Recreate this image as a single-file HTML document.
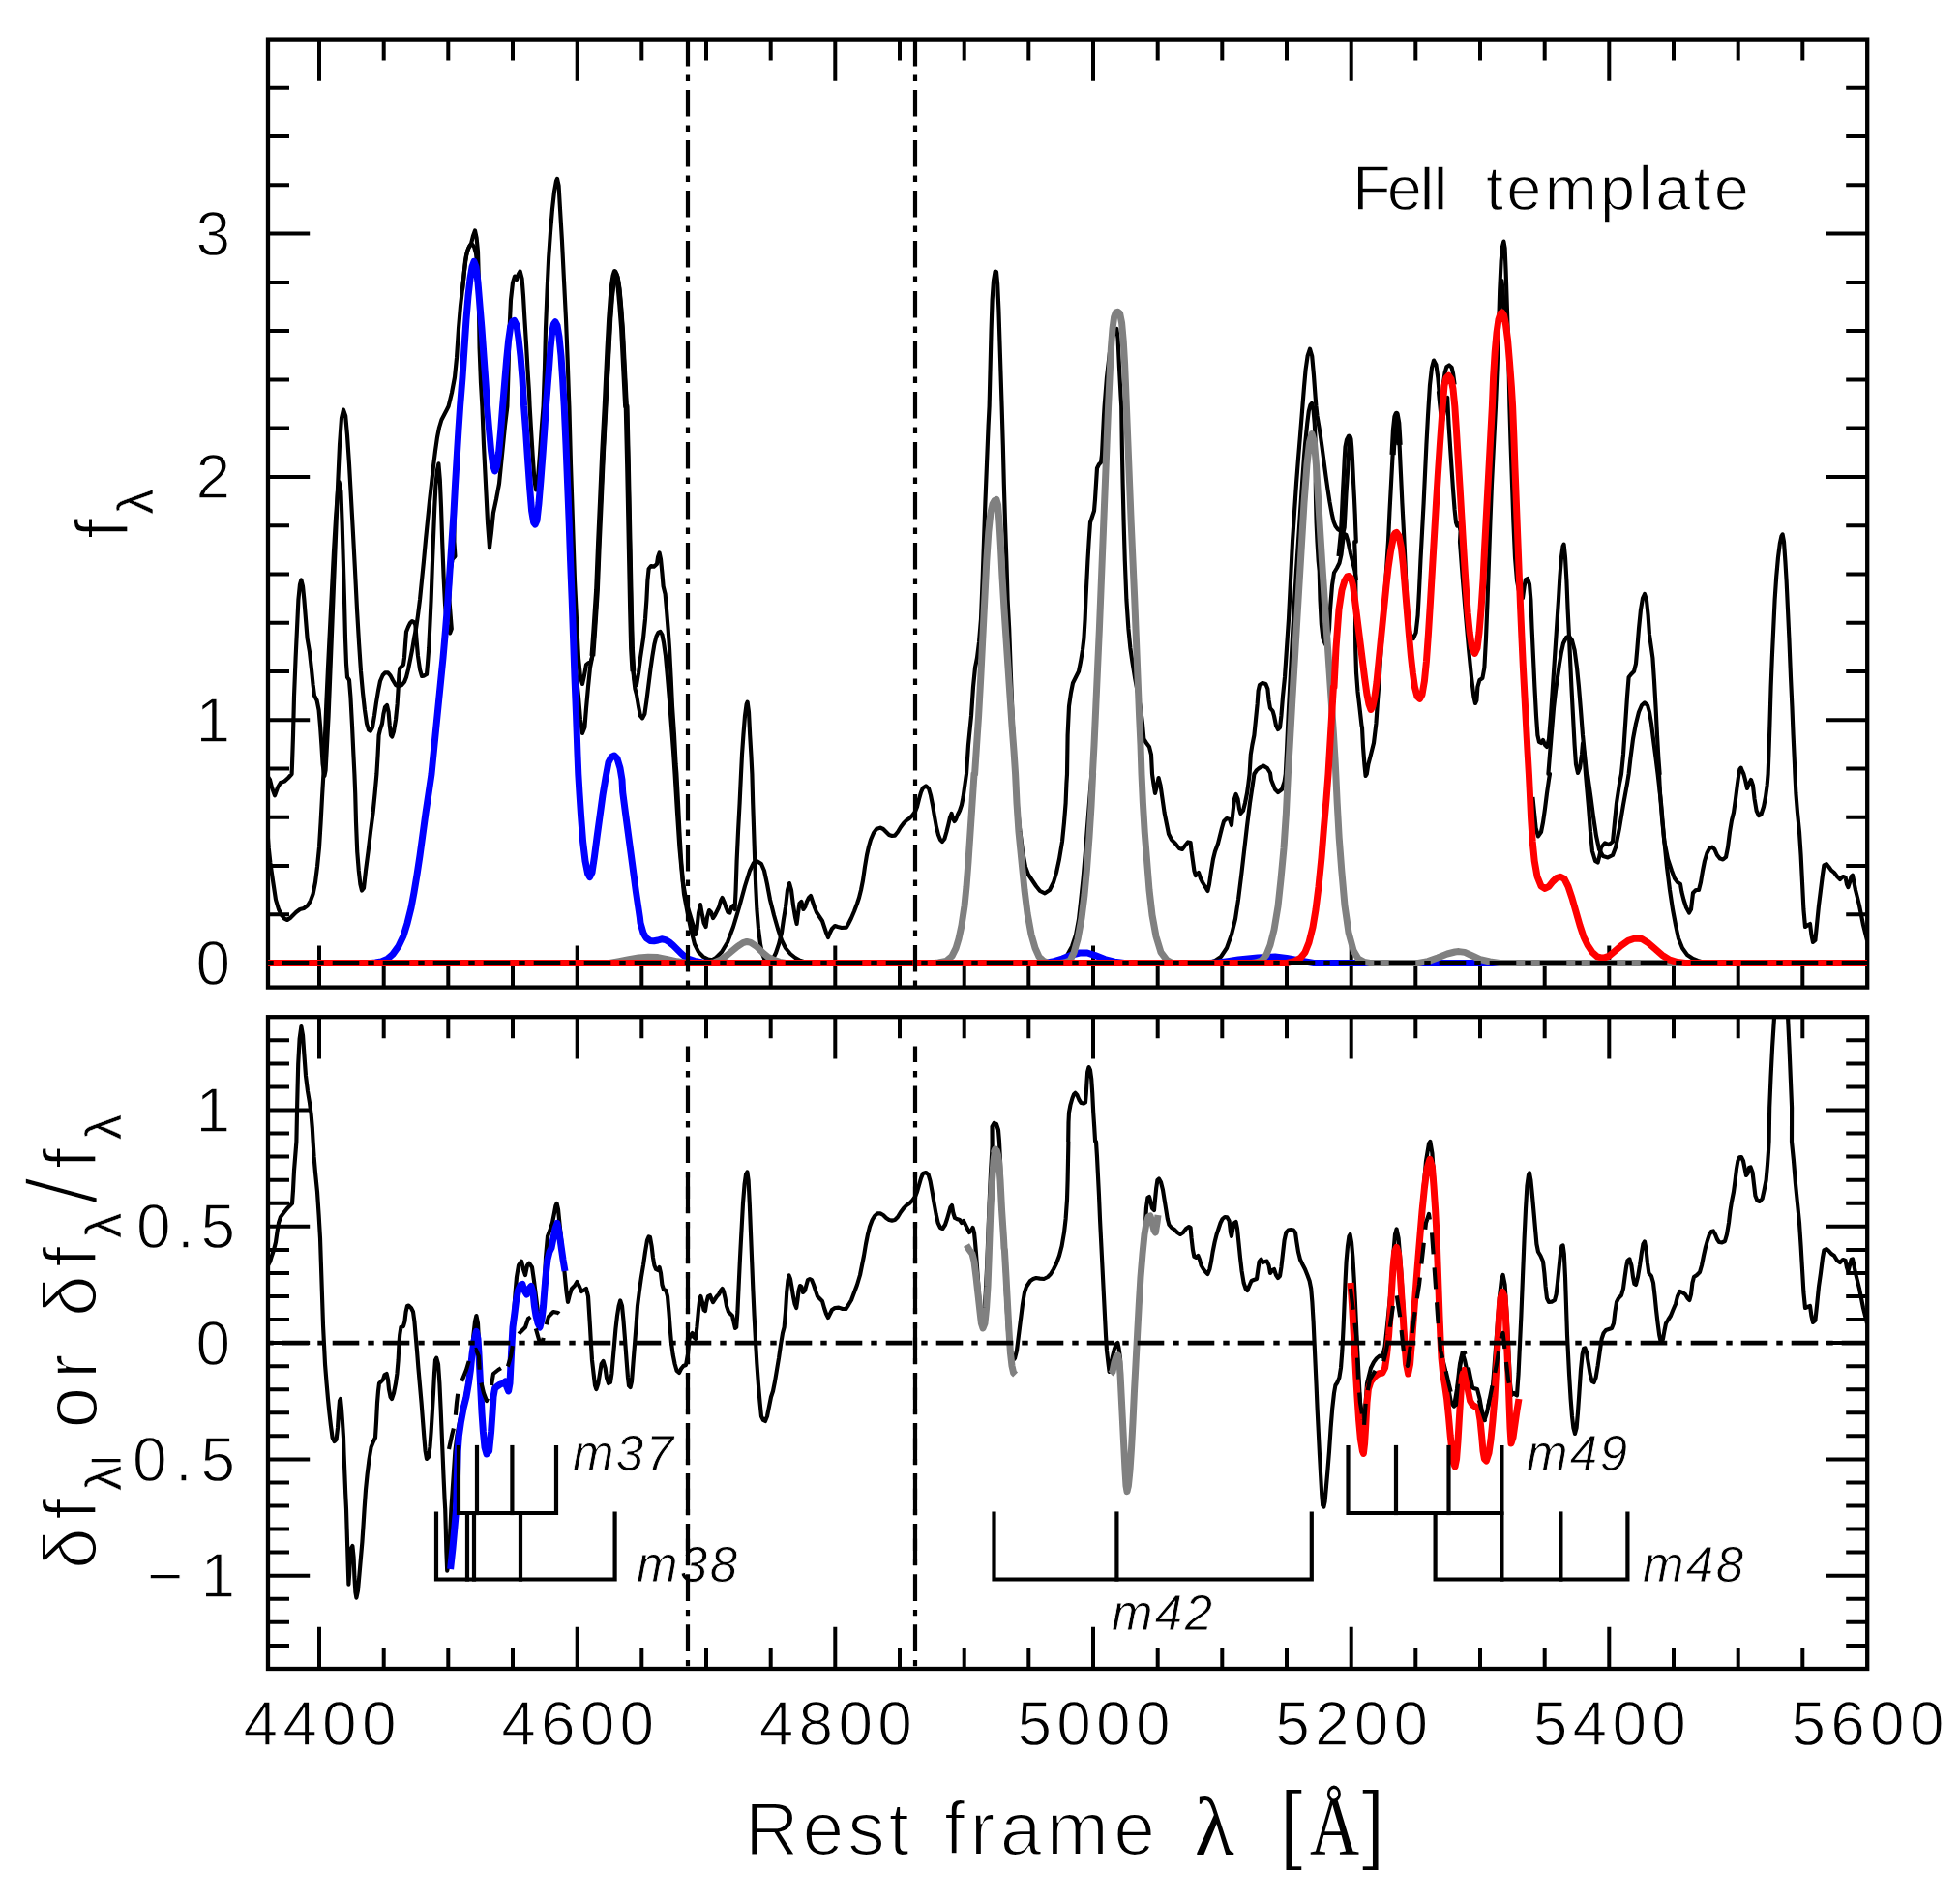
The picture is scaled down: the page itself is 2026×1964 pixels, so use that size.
<!DOCTYPE html>
<html lang="en"><head><meta charset="utf-8"><title>FeII template</title>
<style>html,body{margin:0;padding:0;background:#fff}svg{display:block}text{font-family:"Liberation Sans",sans-serif;fill:#000}.ser{font-family:"Liberation Serif",serif}.it{font-style:italic}.t0{stroke:#fff;stroke-width:0.8}.t1{stroke:#fff;stroke-width:1.3}.t2{stroke:#fff;stroke-width:2.0}.k{fill:none;stroke:#000;stroke-width:4.15;stroke-linejoin:round;stroke-linecap:butt}.c{fill:none;stroke-width:7;stroke-linejoin:round;stroke-linecap:butt}.f{fill:none;stroke:#000;stroke-width:4.3;stroke-linecap:butt}.dd{fill:none;stroke:#000;stroke-width:4.8;stroke-dasharray:27.6 9 6.4 9}</style></head><body>
<svg width="2026" height="1964" viewBox="0 0 2026 1964">
<rect width="2026" height="1964" fill="#fff"/>
<defs><clipPath id="cu"><rect x="277.0" y="40.6" width="1653.2" height="980.0"/></clipPath><clipPath id="cl"><rect x="277.0" y="1051.2" width="1653.2" height="673.8"/></clipPath></defs>
<text class="t1" x="330.5" y="1804" font-size="64" text-anchor="middle" textLength="158" lengthAdjust="spacing">4400</text>
<text class="t1" x="597.2" y="1804" font-size="64" text-anchor="middle" textLength="158" lengthAdjust="spacing">4600</text>
<text class="t1" x="863.8" y="1804" font-size="64" text-anchor="middle" textLength="158" lengthAdjust="spacing">4800</text>
<text class="t1" x="1130.5" y="1804" font-size="64" text-anchor="middle" textLength="158" lengthAdjust="spacing">5000</text>
<text class="t1" x="1397.2" y="1804" font-size="64" text-anchor="middle" textLength="158" lengthAdjust="spacing">5200</text>
<text class="t1" x="1663.8" y="1804" font-size="64" text-anchor="middle" textLength="158" lengthAdjust="spacing">5400</text>
<text class="t1" x="1930.5" y="1804" font-size="64" text-anchor="middle" textLength="158" lengthAdjust="spacing">5600</text>
<text class="t1" x="238" y="1018.0" font-size="64" text-anchor="end">0</text>
<text class="t1" x="238" y="766.7" font-size="64" text-anchor="end">1</text>
<text class="t1" x="238" y="515.4" font-size="64" text-anchor="end">2</text>
<text class="t1" x="238" y="264.1" font-size="64" text-anchor="end">3</text>
<text class="t1" x="238" y="1170.0" font-size="64" text-anchor="end">1</text>
<text class="t1" x="238" y="1410.6" font-size="64" text-anchor="end">0</text>
<text class="t1" x="141.0" y="1290.3" font-size="64" textLength="102.0" lengthAdjust="spacing">0.5</text>
<text class="t1" x="91.0" y="1530.9" font-size="64" textLength="152.0" lengthAdjust="spacing">−0.5</text>
<text class="t1" x="152.0" y="1651.2" font-size="64" textLength="91.0" lengthAdjust="spacing">−1</text>
<text class="t1" x="1398" y="217" font-size="65" textLength="100" lengthAdjust="spacing">FeII</text>
<text class="t1" x="1536" y="217" font-size="65" textLength="272" lengthAdjust="spacing">template</text>
<text class="t2" x="770" y="1917" font-size="77" textLength="170" lengthAdjust="spacing">Rest</text>
<text class="t2" x="976" y="1917" font-size="77" textLength="218" lengthAdjust="spacing">frame</text>
<text class="ser" x="1235" y="1917" font-size="84">λ</text>
<text class="t2" x="1322" y="1915" font-size="90">[</text>
<text class="ser" x="1354" y="1917" font-size="86" textLength="51" lengthAdjust="spacingAndGlyphs">Å</text>
<text class="t2" x="1407" y="1915" font-size="90">]</text>
<text class="t2" transform="translate(133,557) rotate(-90)" font-size="77">f<tspan font-size="52" dy="25" dx="4" stroke-width="0.5">λ</tspan></text>
<text class="t2" transform="translate(100,1622) rotate(-90)" font-size="77" textLength="470" lengthAdjust="spacing">δf<tspan font-size="52" dy="25" stroke-width="0.5">λ</tspan><tspan dy="-25"> or δf</tspan><tspan font-size="52" dy="25" stroke-width="0.5">λ</tspan><tspan dy="-25" font-size="104" stroke-width="3.6">/</tspan><tspan>f</tspan><tspan font-size="52" dy="25" stroke-width="0.5">λ</tspan></text>
<text class="it t0" x="592.0" y="1520.0" font-size="51" textLength="104" lengthAdjust="spacing">m37</text>
<text class="it t0" x="658.0" y="1635.0" font-size="51" textLength="104" lengthAdjust="spacing">m38</text>
<text class="it t0" x="1149.0" y="1685.0" font-size="51" textLength="104" lengthAdjust="spacing">m42</text>
<text class="it t0" x="1578.0" y="1520.0" font-size="51" textLength="104" lengthAdjust="spacing">m49</text>
<text class="it t0" x="1698.0" y="1635.0" font-size="51" textLength="104" lengthAdjust="spacing">m48</text>
<rect class="f" x="277.0" y="40.6" width="1653.2" height="980.0"/>
<rect class="f" x="277.0" y="1051.2" width="1653.2" height="673.8"/>
<path class="f" style="stroke-width:4" d="M330.0 40.6 V83.8 M330.0 1020.6 V977.4 M330.0 1051.2 V1094.4 M330.0 1725.0 V1681.8 M396.7 40.6 V62.6 M396.7 1020.6 V998.6 M396.7 1051.2 V1073.2 M396.7 1725.0 V1703.0 M463.3 40.6 V62.6 M463.3 1020.6 V998.6 M463.3 1051.2 V1073.2 M463.3 1725.0 V1703.0 M530.0 40.6 V62.6 M530.0 1020.6 V998.6 M530.0 1051.2 V1073.2 M530.0 1725.0 V1703.0 M596.7 40.6 V83.8 M596.7 1020.6 V977.4 M596.7 1051.2 V1094.4 M596.7 1725.0 V1681.8 M663.3 40.6 V62.6 M663.3 1020.6 V998.6 M663.3 1051.2 V1073.2 M663.3 1725.0 V1703.0 M730.0 40.6 V62.6 M730.0 1020.6 V998.6 M730.0 1051.2 V1073.2 M730.0 1725.0 V1703.0 M796.7 40.6 V62.6 M796.7 1020.6 V998.6 M796.7 1051.2 V1073.2 M796.7 1725.0 V1703.0 M863.3 40.6 V83.8 M863.3 1020.6 V977.4 M863.3 1051.2 V1094.4 M863.3 1725.0 V1681.8 M930.0 40.6 V62.6 M930.0 1020.6 V998.6 M930.0 1051.2 V1073.2 M930.0 1725.0 V1703.0 M996.7 40.6 V62.6 M996.7 1020.6 V998.6 M996.7 1051.2 V1073.2 M996.7 1725.0 V1703.0 M1063.3 40.6 V62.6 M1063.3 1020.6 V998.6 M1063.3 1051.2 V1073.2 M1063.3 1725.0 V1703.0 M1130.0 40.6 V83.8 M1130.0 1020.6 V977.4 M1130.0 1051.2 V1094.4 M1130.0 1725.0 V1681.8 M1196.7 40.6 V62.6 M1196.7 1020.6 V998.6 M1196.7 1051.2 V1073.2 M1196.7 1725.0 V1703.0 M1263.3 40.6 V62.6 M1263.3 1020.6 V998.6 M1263.3 1051.2 V1073.2 M1263.3 1725.0 V1703.0 M1330.0 40.6 V62.6 M1330.0 1020.6 V998.6 M1330.0 1051.2 V1073.2 M1330.0 1725.0 V1703.0 M1396.7 40.6 V83.8 M1396.7 1020.6 V977.4 M1396.7 1051.2 V1094.4 M1396.7 1725.0 V1681.8 M1463.3 40.6 V62.6 M1463.3 1020.6 V998.6 M1463.3 1051.2 V1073.2 M1463.3 1725.0 V1703.0 M1530.0 40.6 V62.6 M1530.0 1020.6 V998.6 M1530.0 1051.2 V1073.2 M1530.0 1725.0 V1703.0 M1596.7 40.6 V62.6 M1596.7 1020.6 V998.6 M1596.7 1051.2 V1073.2 M1596.7 1725.0 V1703.0 M1663.3 40.6 V83.8 M1663.3 1020.6 V977.4 M1663.3 1051.2 V1094.4 M1663.3 1725.0 V1681.8 M1730.0 40.6 V62.6 M1730.0 1020.6 V998.6 M1730.0 1051.2 V1073.2 M1730.0 1725.0 V1703.0 M1796.7 40.6 V62.6 M1796.7 1020.6 V998.6 M1796.7 1051.2 V1073.2 M1796.7 1725.0 V1703.0 M1863.3 40.6 V62.6 M1863.3 1020.6 V998.6 M1863.3 1051.2 V1073.2 M1863.3 1725.0 V1703.0 M277.0 995.5 H320.2 M1930.2 995.5 H1887.0 M277.0 945.2 H299.0 M1930.2 945.2 H1908.2 M277.0 895.0 H299.0 M1930.2 895.0 H1908.2 M277.0 844.7 H299.0 M1930.2 844.7 H1908.2 M277.0 794.5 H299.0 M1930.2 794.5 H1908.2 M277.0 744.2 H320.2 M1930.2 744.2 H1887.0 M277.0 693.9 H299.0 M1930.2 693.9 H1908.2 M277.0 643.7 H299.0 M1930.2 643.7 H1908.2 M277.0 593.4 H299.0 M1930.2 593.4 H1908.2 M277.0 543.2 H299.0 M1930.2 543.2 H1908.2 M277.0 492.9 H320.2 M1930.2 492.9 H1887.0 M277.0 442.6 H299.0 M1930.2 442.6 H1908.2 M277.0 392.4 H299.0 M1930.2 392.4 H1908.2 M277.0 342.1 H299.0 M1930.2 342.1 H1908.2 M277.0 291.9 H299.0 M1930.2 291.9 H1908.2 M277.0 241.6 H320.2 M1930.2 241.6 H1887.0 M277.0 191.3 H299.0 M1930.2 191.3 H1908.2 M277.0 141.1 H299.0 M1930.2 141.1 H1908.2 M277.0 90.8 H299.0 M1930.2 90.8 H1908.2 M277.0 1700.9 H299.0 M1930.2 1700.9 H1908.2 M277.0 1676.8 H299.0 M1930.2 1676.8 H1908.2 M277.0 1652.8 H299.0 M1930.2 1652.8 H1908.2 M277.0 1628.7 H320.2 M1930.2 1628.7 H1887.0 M277.0 1604.6 H299.0 M1930.2 1604.6 H1908.2 M277.0 1580.6 H299.0 M1930.2 1580.6 H1908.2 M277.0 1556.5 H299.0 M1930.2 1556.5 H1908.2 M277.0 1532.5 H299.0 M1930.2 1532.5 H1908.2 M277.0 1508.4 H320.2 M1930.2 1508.4 H1887.0 M277.0 1484.3 H299.0 M1930.2 1484.3 H1908.2 M277.0 1460.3 H299.0 M1930.2 1460.3 H1908.2 M277.0 1436.2 H299.0 M1930.2 1436.2 H1908.2 M277.0 1412.2 H299.0 M1930.2 1412.2 H1908.2 M277.0 1388.1 H320.2 M1930.2 1388.1 H1887.0 M277.0 1364.0 H299.0 M1930.2 1364.0 H1908.2 M277.0 1340.0 H299.0 M1930.2 1340.0 H1908.2 M277.0 1315.9 H299.0 M1930.2 1315.9 H1908.2 M277.0 1291.9 H299.0 M1930.2 1291.9 H1908.2 M277.0 1267.8 H320.2 M1930.2 1267.8 H1887.0 M277.0 1243.7 H299.0 M1930.2 1243.7 H1908.2 M277.0 1219.7 H299.0 M1930.2 1219.7 H1908.2 M277.0 1195.6 H299.0 M1930.2 1195.6 H1908.2 M277.0 1171.6 H299.0 M1930.2 1171.6 H1908.2 M277.0 1147.5 H320.2 M1930.2 1147.5 H1887.0 M277.0 1123.4 H299.0 M1930.2 1123.4 H1908.2 M277.0 1099.4 H299.0 M1930.2 1099.4 H1908.2 M277.0 1075.3 H299.0 M1930.2 1075.3 H1908.2"/>
<g clip-path="url(#cu)">
<path class="k" d="M277.0 803.0 L279.0 806.0 L281.0 814.0 L284.0 822.4 L287.0 814.0 L290.0 809.0 L294.0 807.6 L298.0 804.0 L301.6 800.0 L302.0 790.0 L303.0 760.0 L304.0 720.0 L305.6 680.0 L307.0 650.0 L308.4 620.0 L310.0 604.0 L311.4 599.4 L313.0 606.0 L314.4 620.0 L316.0 640.0 L317.6 660.0 L320.0 674.0 L322.0 692.0 L323.6 708.0 L325.0 719.0 L327.6 724.0 L329.6 734.0 L331.0 750.0 L332.4 770.0 L333.6 790.0 L335.4 802.0 L336.6 796.0 L338.0 770.0 L339.6 740.0 L341.2 700.0 L342.8 660.0 L344.4 620.0 L346.0 580.0 L347.6 540.0 L349.2 500.0 L351.0 460.0 L353.0 432.0 L355.0 423.6 L357.2 430.0 L359.0 450.0 L361.0 480.0 L363.0 516.0 L365.0 552.0 L367.0 590.0 L369.0 630.0 L371.0 664.0 L373.0 694.0 L375.0 716.0 L377.0 734.0 L379.0 748.0 L381.0 754.4 L383.0 755.6 L385.0 752.0 L387.0 740.0 L389.0 726.0 L391.0 714.0 L393.0 704.0 L395.6 698.0 L398.0 695.4 L401.0 695.4 L403.6 698.4 L406.0 703.0 L409.0 708.0 L412.0 709.4 L415.0 708.4 L418.0 705.0 L420.0 700.0 L422.0 692.0 L424.0 682.0 L426.0 672.0 L428.0 660.0 L430.0 650.0 L432.0 636.0 L434.0 620.0 L436.0 600.0 L438.0 580.0 L440.0 558.0 L442.0 538.0 L444.0 518.0 L446.0 500.0 L448.0 482.0 L450.0 466.0 L452.0 452.0 L454.0 442.0 L456.4 434.0 L459.0 429.0 L461.6 424.0 L463.6 420.0 L463.6 420.0 L467.0 406.0 L470.0 390.0 L472.0 370.0 L474.0 340.0 L476.0 316.0 L479.0 290.0 L481.0 270.0 L483.0 260.0 L485.0 255.0 L487.0 252.0 L489.0 244.0 L491.0 238.4 L492.6 246.0 L494.0 260.0 L494.6 280.0 L495.0 320.0 L495.6 360.0 L497.0 396.0 L498.4 420.0 L498.4 420.0 L500.0 460.0 L502.0 500.0 L504.0 540.0 L506.0 566.4 L508.0 550.0 L510.0 530.0 L513.0 516.0 L516.0 500.0 L518.0 480.0 L520.0 460.0 L522.0 440.0 L524.4 420.0 L524.4 420.0 L525.6 380.0 L526.6 340.0 L528.0 310.0 L530.0 292.0 L532.0 285.6 L534.0 289.0 L536.0 283.0 L537.6 280.4 L539.6 288.0 L541.0 306.0 L542.4 330.0 L544.0 356.0 L545.6 384.0 L547.0 406.0 L547.6 420.0 L547.6 420.0 L549.0 444.0 L550.6 470.0 L552.4 496.0 L554.0 506.4 L555.6 500.0 L558.0 470.0 L560.0 440.0 L561.6 420.0 L561.6 420.0 L563.0 380.0 L564.0 340.0 L565.6 300.0 L567.2 266.0 L569.0 240.0 L571.0 216.0 L573.0 198.0 L575.0 187.0 L576.0 184.8 L577.6 192.0 L579.0 216.0 L581.0 250.0 L583.0 290.0 L585.0 330.0 L586.6 370.0 L588.0 410.0 L588.4 420.0 L588.4 420.0 L590.0 480.0 L592.0 540.0 L594.0 600.0 L596.0 640.0 L598.0 680.0 L600.0 700.0 L602.0 707.0 L604.0 698.0 L606.0 687.0 L608.4 685.0 L610.0 686.0 L612.4 678.0 L614.4 650.0 L617.0 610.0 L619.0 560.0 L621.0 516.0 L623.0 470.0 L625.6 420.0 L625.6 420.0 L627.0 390.0 L628.4 360.0 L630.0 330.0 L631.6 308.0 L633.0 294.0 L634.4 285.0 L635.6 281.0 L637.6 286.0 L639.6 298.0 L641.2 316.0 L643.0 340.0 L645.0 380.0 L647.0 420.0 L647.6 420.0 L649.0 480.0 L650.0 530.0 L651.0 580.0 L652.0 630.0 L653.0 670.0 L654.4 694.0 L656.4 706.0 L658.0 708.0 L660.0 696.0 L662.0 680.0 L665.0 660.0 L667.0 640.0 L668.4 620.0 L669.4 600.0 L670.6 588.0 L673.0 585.0 L676.0 585.6 L679.0 583.0 L680.0 576.0 L681.6 571.4 L683.0 578.0 L684.4 592.0 L685.6 606.0 L687.6 614.0 L689.0 630.0 L690.6 650.0 L692.0 670.0 L693.6 700.0 L695.0 730.0 L697.0 760.0 L698.6 790.0 L699.4 800.0 L699.4 800.0 L701.0 830.0 L702.4 860.0 L704.0 888.0 L706.0 912.0 L708.4 926.0 L711.0 938.0 L714.0 948.0 L717.0 958.0 L719.0 966.0 L720.4 960.0 L722.0 944.0 L724.0 935.0 L725.6 944.0 L727.6 954.0 L729.6 958.0 L731.0 948.0 L733.0 941.0 L735.0 943.0 L737.0 949.0 L739.0 946.0 L741.0 942.0 L743.0 938.0 L745.0 931.0 L746.6 928.0 L748.4 932.0 L750.4 938.0 L752.4 943.0 L754.4 943.6 L756.0 938.0 L758.0 936.0 L759.6 940.0 L760.6 920.0 L761.6 890.0 L763.0 860.0 L764.6 830.0 L766.0 800.0 L766.0 800.0 L767.0 780.0 L768.4 760.0 L770.0 740.0 L771.6 728.0 L772.6 725.6 L774.0 736.0 L775.2 760.0 L776.4 780.0 L777.4 800.0 L777.4 800.0 L778.2 830.0 L779.2 860.0 L780.2 890.0 L781.2 916.0 L782.4 940.0 L784.0 960.0 L786.0 976.0 L788.0 986.0 L790.4 991.6 L795.0 993.2 L799.0 991.0 L802.0 985.0 L805.0 976.0 L808.0 964.0 L810.0 950.0 L812.0 938.0 L814.0 920.0 L816.0 913.0 L818.0 920.0 L820.0 936.0 L822.0 948.0 L823.6 955.0 L825.0 944.0 L826.4 934.0 L828.4 932.0 L830.4 940.0 L832.4 937.0 L834.0 932.0 L836.0 928.0 L838.0 926.0 L840.0 932.0 L842.0 938.0 L844.0 943.0 L846.0 946.0 L848.0 949.0 L850.0 952.0 L852.0 958.0 L854.0 964.0 L856.0 969.0 L858.0 964.0 L860.0 960.0 L863.0 957.0 L866.0 958.0 L870.0 959.0 L875.0 958.6 L877.0 955.0 L880.0 949.0 L883.0 942.0 L886.0 934.0 L888.0 928.0 L890.0 920.0 L892.0 910.0 L894.0 896.0 L896.0 884.0 L898.0 875.0 L900.0 868.0 L903.0 861.0 L906.0 857.0 L910.0 855.6 L913.0 857.0 L916.0 860.0 L919.0 863.0 L922.0 864.0 L925.0 863.6 L928.0 860.0 L931.0 855.0 L934.0 851.0 L937.0 848.0 L940.0 846.0 L943.0 843.0 L946.0 839.0 L948.0 834.0 L950.0 826.0 L952.0 819.0 L954.0 814.4 L957.0 812.4 L960.0 815.0 L962.0 822.0 L964.0 832.0 L966.0 844.0 L968.0 855.0 L970.0 863.0 L972.0 868.0 L974.0 870.0 L976.4 867.0 L978.4 860.0 L980.4 852.0 L982.0 845.0 L983.6 841.0 L985.0 846.0 L986.6 849.0 L988.0 847.0 L990.0 842.0 L992.0 838.0 L994.0 832.0 L995.6 824.0 L997.0 814.0 L998.4 804.0 L999.0 800.0 L999.0 800.0 L1001.0 770.0 L1004.0 740.0 L1006.0 710.0 L1008.0 690.0 L1010.0 680.0 L1012.0 664.0 L1014.0 640.0 L1015.6 600.0 L1017.0 560.0 L1018.4 520.0 L1020.0 480.0 L1021.6 440.0 L1022.6 420.0 L1022.6 420.0 L1023.6 380.0 L1024.6 340.0 L1025.6 310.0 L1027.0 290.0 L1028.6 280.6 L1030.0 281.0 L1031.2 294.0 L1032.4 320.0 L1034.0 370.0 L1035.6 420.0 L1035.6 420.0 L1036.8 460.0 L1037.8 500.0 L1039.0 540.0 L1040.4 580.0 L1041.6 620.0 L1043.2 650.0 L1045.0 700.0 L1047.0 750.0 L1049.0 790.0 L1049.6 800.0 L1049.6 800.0 L1051.6 830.0 L1054.0 856.0 L1057.0 880.0 L1060.0 896.0 L1063.0 904.0 L1067.0 910.0 L1071.0 916.0 L1075.0 921.0 L1080.0 923.4 L1085.0 920.0 L1089.0 912.0 L1092.0 902.0 L1095.0 888.0 L1098.0 870.0 L1100.0 850.0 L1101.6 830.0 L1102.4 810.0 L1103.0 800.0 L1103.0 800.0 L1103.6 760.0 L1105.0 730.0 L1107.0 716.0 L1109.0 706.0 L1112.0 700.0 L1115.0 694.0 L1117.0 684.0 L1119.0 672.0 L1120.4 660.0 L1121.6 640.0 L1122.4 620.0 L1123.4 600.0 L1124.4 580.0 L1125.6 560.0 L1127.0 540.0 L1129.0 534.0 L1131.0 528.0 L1132.0 516.0 L1133.0 500.0 L1134.0 484.0 L1136.0 480.0 L1138.0 478.0 L1139.0 470.0 L1140.0 450.0 L1141.0 430.0 L1141.6 420.0 L1141.6 420.0 L1144.0 390.0 L1147.0 364.0 L1150.0 348.0 L1153.0 341.0 L1154.4 340.0 L1155.6 350.0 L1157.0 380.0 L1158.6 410.0 L1159.2 420.0 L1159.2 420.0 L1159.8 460.0 L1160.6 500.0 L1161.6 540.0 L1162.8 580.0 L1164.4 620.0 L1166.4 650.0 L1168.4 670.0 L1170.4 684.0 L1173.0 700.0 L1176.0 716.0 L1179.0 732.0 L1181.0 748.0 L1182.4 764.0 L1185.0 768.0 L1188.0 772.0 L1190.0 780.0 L1191.0 800.0 L1191.0 800.0 L1192.4 810.0 L1194.0 820.0 L1196.0 812.0 L1197.6 804.0 L1199.6 812.0 L1201.6 826.0 L1203.6 840.0 L1206.0 852.0 L1208.0 862.0 L1211.0 868.0 L1215.0 872.0 L1219.0 877.0 L1222.0 878.0 L1225.0 874.0 L1228.0 870.4 L1230.6 871.0 L1231.6 880.0 L1233.0 890.0 L1234.4 900.0 L1236.0 905.0 L1239.0 902.0 L1241.0 908.0 L1243.0 912.0 L1246.0 917.0 L1248.4 921.0 L1250.0 914.0 L1252.0 900.0 L1254.0 888.0 L1256.0 880.0 L1259.0 872.0 L1261.0 864.0 L1263.0 856.0 L1265.0 849.0 L1268.0 846.0 L1271.0 847.0 L1273.0 853.0 L1274.4 840.0 L1276.0 826.0 L1277.6 821.0 L1279.6 826.0 L1281.0 836.0 L1282.4 841.0 L1285.0 838.0 L1287.0 830.0 L1289.0 820.0 L1290.4 810.0 L1291.6 800.0 L1291.6 800.0 L1292.8 780.0 L1294.4 770.0 L1296.4 760.0 L1298.0 744.0 L1299.6 728.0 L1300.6 714.0 L1302.0 708.0 L1305.0 706.0 L1308.4 707.0 L1310.4 712.0 L1311.6 724.0 L1313.0 732.0 L1315.6 735.0 L1317.0 740.0 L1319.0 750.0 L1321.0 754.0 L1323.0 752.0 L1324.4 740.0 L1326.0 720.0 L1328.0 700.0 L1330.0 670.0 L1332.0 640.0 L1334.0 600.0 L1336.0 560.0 L1338.0 530.0 L1340.0 500.0 L1342.0 474.0 L1344.0 450.0 L1345.6 430.0 L1346.4 420.0 L1346.4 420.0 L1348.0 400.0 L1349.6 382.0 L1351.6 368.0 L1354.0 360.6 L1356.2 368.0 L1358.0 388.0 L1359.6 410.0 L1360.4 420.0 L1360.4 420.0 L1361.5 430.0 L1363.2 440.0 L1364.8 450.0 L1366.5 462.0 L1368.5 477.0 L1370.5 492.0 L1372.5 506.0 L1374.5 519.0 L1376.5 530.0 L1378.5 539.0 L1380.5 544.0 L1383.0 547.2 L1386.0 549.0 L1388.5 550.5 L1389.7 545.0 L1390.5 530.0 L1391.5 510.0 L1392.5 495.0 L1393.5 480.0 L1394.3 465.0 L1395.0 454.0 L1395.6 451.2 L1396.5 454.0 L1397.2 462.0 L1397.8 472.0 L1398.5 486.0 L1399.2 501.0 L1400.0 516.0 L1400.7 531.0 L1401.2 545.0 L1401.8 560.0 L1400.2 560.0 L1400.8 575.0 L1401.2 590.0 L1401.4 610.0 L1401.2 630.0 L1401.0 650.0 L1401.2 670.0 L1402.0 695.0 L1403.5 715.0 L1405.5 732.0 L1407.5 750.0 L1408.0 752.0 L1409.0 772.0 L1410.4 790.0 L1411.6 802.0 L1412.8 800.0 L1414.4 790.0 L1417.0 780.0 L1420.0 768.0 L1422.4 748.0 L1424.0 724.0 L1425.6 704.0 L1427.0 680.0 L1429.0 650.0 L1431.0 620.0 L1433.0 590.0 L1435.0 560.0 L1436.4 530.0 L1438.0 500.0 L1439.6 470.0 L1441.0 444.0 L1442.4 431.0 L1443.6 428.0 L1445.2 437.0 L1446.6 460.0 L1448.0 490.0 L1449.4 520.0 L1451.0 550.0 L1452.4 580.0 L1454.0 620.0 L1455.6 646.0 L1458.0 656.0 L1461.0 660.0 L1463.6 654.0 L1465.6 636.0 L1467.0 610.0 L1468.4 580.0 L1470.0 550.0 L1471.6 520.0 L1473.0 490.0 L1474.4 460.0 L1476.0 430.0 L1476.6 420.0 L1476.6 420.0 L1478.0 398.0 L1480.0 380.0 L1482.0 372.6 L1484.4 377.0 L1486.4 391.0 L1488.0 410.0 L1487.0 405.3 L1489.2 427.4 L1491.1 435.1 L1493.1 423.0 L1494.9 411.9 L1496.2 411.0 L1497.5 438.4 L1499.7 471.6 L1501.9 504.7 L1503.6 526.9 L1505.0 540.1 L1506.3 543.7 L1508.0 541.2 L1509.6 549.0 L1509.0 560.0 L1512.0 600.0 L1515.0 636.0 L1518.0 670.0 L1521.0 700.0 L1523.4 720.0 L1525.0 727.0 L1526.4 724.0 L1527.4 710.0 L1529.4 703.0 L1532.4 701.0 L1534.4 690.0 L1536.0 660.0 L1537.6 620.0 L1539.0 580.0 L1540.4 540.0 L1542.0 500.0 L1544.0 460.0 L1546.0 420.0 L1546.0 420.0 L1547.6 380.0 L1549.0 340.0 L1550.2 300.0 L1551.6 270.0 L1553.0 255.0 L1554.4 249.6 L1555.6 256.4 L1556.6 280.0 L1557.6 310.0 L1558.6 340.0 L1559.6 380.0 L1560.4 420.0 L1560.4 420.0 L1561.6 460.0 L1563.0 500.0 L1564.4 540.0 L1566.0 576.0 L1568.0 600.0 L1571.0 616.0 L1574.0 618.0 L1575.6 606.0 L1577.0 599.0 L1579.0 598.0 L1581.0 604.0 L1582.4 620.0 L1583.6 650.0 L1585.0 680.0 L1586.4 710.0 L1588.0 740.0 L1589.4 760.0 L1591.0 767.0 L1593.0 768.0 L1595.0 765.0 L1597.0 770.0 L1599.0 772.0 L1601.0 764.0 L1603.0 740.0 L1605.0 710.0 L1607.0 680.0 L1609.0 650.0 L1611.0 620.0 L1612.4 596.0 L1614.0 576.0 L1615.6 564.4 L1616.6 562.6 L1618.0 576.0 L1619.4 600.0 L1620.6 630.0 L1621.6 650.0 L1623.0 680.0 L1624.4 710.0 L1626.0 740.0 L1627.6 770.0 L1629.0 790.0 L1631.0 799.0 L1633.0 794.0 L1635.0 780.0 L1636.0 768.4 L1637.6 780.0 L1639.0 800.0 L1639.0 800.0 L1640.4 816.0 L1642.0 834.0 L1644.0 860.0 L1646.0 880.0 L1649.0 890.0 L1651.6 891.6 L1653.6 884.0 L1655.0 876.0 L1659.0 871.4 L1663.0 873.2 L1667.0 870.0 L1669.0 850.0 L1671.0 830.0 L1674.0 810.0 L1676.0 800.0 L1676.0 800.0 L1678.0 780.0 L1680.0 750.0 L1682.0 720.0 L1683.6 700.0 L1686.0 697.0 L1689.0 694.0 L1691.0 686.0 L1692.4 670.0 L1694.0 650.0 L1696.0 630.0 L1698.0 618.4 L1700.0 614.0 L1702.0 620.4 L1703.6 636.0 L1705.0 656.0 L1707.0 670.0 L1708.4 680.0 L1710.0 704.0 L1711.6 732.0 L1713.0 760.0 L1714.4 784.0 L1715.6 800.0 L1715.0 800.0 L1716.0 820.0 L1718.0 846.0 L1720.4 870.0 L1724.0 888.0 L1728.0 900.0 L1731.0 908.0 L1734.0 912.0 L1737.0 914.0 L1738.4 922.0 L1740.4 930.0 L1743.0 938.0 L1746.0 943.6 L1748.0 940.0 L1750.0 923.0 L1753.0 920.0 L1756.0 920.0 L1758.0 912.0 L1760.0 900.0 L1762.0 890.0 L1764.4 882.0 L1767.0 877.0 L1770.0 875.6 L1772.4 878.0 L1775.0 884.0 L1778.0 887.6 L1781.0 888.4 L1784.0 886.0 L1786.0 876.0 L1788.0 860.0 L1790.0 848.0 L1792.0 840.0 L1794.0 826.0 L1796.0 810.0 L1797.4 800.0 L1797.4 800.0 L1798.4 795.0 L1799.6 793.6 L1801.0 797.0 L1802.4 800.0 L1802.4 800.0 L1804.0 806.0 L1806.0 815.0 L1808.0 810.0 L1810.0 806.0 L1812.0 812.0 L1813.6 826.0 L1815.6 838.0 L1818.0 843.0 L1820.4 842.0 L1823.0 834.0 L1825.0 824.0 L1826.6 812.0 L1827.6 800.0 L1827.6 800.0 L1828.4 780.0 L1829.4 750.0 L1830.6 710.0 L1831.8 680.0 L1833.2 650.0 L1834.6 620.0 L1836.2 596.0 L1838.0 576.0 L1839.8 562.0 L1841.4 554.4 L1842.6 552.4 L1844.0 560.0 L1845.4 580.0 L1846.6 600.0 L1848.0 630.0 L1849.4 660.0 L1851.0 700.0 L1852.4 730.0 L1853.6 760.0 L1855.0 790.0 L1855.4 800.0 L1855.4 800.0 L1856.4 820.0 L1858.0 840.0 L1860.0 860.0 L1861.6 884.0 L1863.0 912.0 L1864.4 940.0 L1866.0 958.0 L1869.0 956.0 L1871.0 955.0 L1872.4 966.0 L1874.0 974.0 L1876.4 972.0 L1878.0 956.0 L1880.0 936.0 L1882.0 920.0 L1884.0 904.0 L1885.4 894.4 L1888.0 893.2 L1890.4 896.0 L1893.0 899.6 L1896.0 902.0 L1899.0 906.0 L1902.0 909.0 L1905.0 906.0 L1907.6 907.0 L1909.0 914.0 L1910.4 917.0 L1912.0 912.0 L1913.6 906.0 L1915.0 904.6 L1916.4 912.0 L1918.0 920.0 L1920.0 928.0 L1922.0 936.0 L1924.0 946.0 L1926.0 956.0 L1928.0 964.0 L1930.0 972.0"/>
<path class="k" d="M276.6 862.0 L277.8 877.0 L279.4 892.0 L282.0 910.0 L285.0 930.0 L288.0 940.0 L291.0 946.0 L294.0 949.6 L297.0 951.0 L300.0 949.0 L303.0 946.0 L306.0 943.0 L310.0 940.0 L314.0 939.0 L318.0 936.0 L321.0 931.0 L323.6 924.0 L326.0 912.0 L328.0 896.0 L330.0 876.0 L331.6 850.0 L333.0 824.0 L334.4 800.0 L334.4 800.0 L335.6 770.0 L337.2 730.0 L339.0 690.0 L341.0 650.0 L343.0 610.0 L345.0 570.0 L347.0 536.0 L349.0 508.0 L350.6 498.4 L352.4 508.0 L353.6 540.0 L354.8 580.0 L356.0 620.0 L357.0 660.0 L358.0 686.0 L359.0 700.0 L361.0 703.0 L362.4 720.0 L364.0 750.0 L365.4 780.0 L366.4 800.0 L366.4 800.0 L367.2 820.0 L368.0 850.0 L369.2 880.0 L370.8 900.0 L372.4 914.0 L374.0 920.6 L376.0 918.0 L378.0 900.0 L380.6 880.0 L383.0 860.0 L385.6 840.0 L387.6 820.0 L389.4 800.0 L389.4 800.0 L390.6 780.0 L391.6 760.0 L393.0 754.0 L395.0 748.0 L396.4 738.0 L398.0 731.0 L400.0 729.0 L401.6 736.0 L402.8 750.0 L404.0 760.0 L405.2 761.6 L407.0 756.0 L409.0 744.0 L410.6 728.0 L411.6 712.0 L412.4 698.0 L413.2 691.0 L415.0 689.0 L417.0 687.0 L418.0 680.0 L419.0 666.0 L420.0 653.0 L422.0 648.0 L424.0 644.0 L426.0 642.0 L428.0 643.0 L429.4 646.0 L430.4 660.0 L432.0 678.0 L434.0 692.0 L436.0 699.0 L438.0 698.6 L441.0 697.0 L442.0 686.0 L443.2 670.0 L444.4 646.0 L445.6 620.0 L446.8 586.0 L448.0 556.0 L449.2 526.0 L450.4 502.0 L452.0 486.0 L453.4 479.4 L454.8 496.0 L456.0 524.0 L457.2 560.0 L458.6 596.0 L460.0 624.0 L461.6 642.0 L463.2 652.0 L465.2 654.4 L466.8 650.0 L464.4 620.0 L465.6 590.0 L467.6 578.0 L470.4 575.0 L469.4 560.0 L469.6 530.0 L470.6 500.0 L472.4 470.0 L475.6 420.0"/>
<path class="k" d="M593.0 660.0 L595.0 690.0 L598.0 720.0 L600.0 744.0 L602.0 758.0 L604.4 752.0 L606.0 732.0 L608.0 710.0 L610.0 690.0 L612.0 680.0 L614.0 660.0 L616.0 630.0 L618.0 590.0 L620.0 540.0 L622.0 500.0 L624.0 460.0 L626.0 420.0 L626.0 420.0 L628.0 390.0 L629.6 360.0 L631.2 330.0 L632.8 308.0 L634.4 294.0 L636.0 285.0 L637.2 283.0 L638.8 288.0 L640.4 300.0 L642.0 318.0 L643.6 342.0 L645.4 380.0 L647.4 420.0 L648.0 420.0 L649.4 480.0 L650.4 530.0 L651.4 580.0 L652.4 630.0 L653.4 670.0 L655.0 700.0 L656.4 712.0 L658.0 718.0 L660.0 730.0 L662.0 740.0 L664.0 742.4 L666.4 738.0 L668.4 724.0 L670.4 708.0 L672.4 692.0 L674.4 678.0 L676.4 666.0 L678.4 658.0 L680.4 654.0 L682.6 653.0 L684.4 656.0 L686.0 664.0 L688.0 678.0 L690.0 700.0 L692.0 724.0 L694.0 750.0 L696.0 776.0 L697.6 800.0 L697.6 800.0 L700.0 840.0 L702.4 876.0 L705.0 904.0 L707.0 924.0 L710.0 940.0 L714.0 960.0 L718.0 976.0 L722.0 984.0 L727.0 989.0 L732.0 991.6 L736.0 992.4 L740.0 990.0 L746.0 984.0 L752.0 974.0 L758.0 958.0 L764.0 938.0 L770.0 916.0 L775.0 900.0 L779.0 892.0 L783.0 890.4 L787.0 893.0 L790.0 900.0 L793.0 914.0 L796.0 930.0 L800.0 946.0 L804.0 960.0 L808.0 972.0 L812.0 980.0 L817.0 986.0 L822.0 990.0 L826.0 992.4 L834.0 995.0"/>
<path class="k" style="stroke-width:5.8" d="M612.4 678.0 L614.4 650.0 L617.0 610.0 L619.0 560.0 L621.0 516.0 L623.0 470.0 L625.6 420.0 L625.6 420.0 L627.0 390.0 L628.4 360.0 L630.0 330.0 L631.6 308.0 L633.0 294.0 L634.4 285.0 L635.6 281.0 L637.6 286.0 L639.6 298.0 L641.2 316.0 L643.0 340.0 L645.0 380.0 L647.0 420.0 L647.6 420.0 L649.0 480.0 L650.0 530.0 L651.0 580.0 L652.0 630.0 L653.0 670.0 L654.4 694.0"/>
<path class="k" style="stroke-width:6.2" d="M1439.6 470.0 L1441.0 444.0 L1442.4 431.0 L1443.6 428.0 L1445.2 437.0 L1446.6 460.0"/>
<path class="k" d="M1090.0 995.0 L1098.0 992.4 L1103.0 987.4 L1108.0 978.4 L1112.0 966.4 L1115.0 950.4 L1117.0 932.4 L1119.6 908.0 L1122.0 880.0 L1124.4 850.0 L1126.8 820.0 L1128.4 800.0"/>
<path class="k" d="M1250.0 995.0 L1256.0 993.0 L1262.0 989.0 L1268.0 980.0 L1273.0 966.0 L1277.0 950.0 L1280.0 930.0 L1283.0 906.0 L1286.0 880.0 L1289.0 854.0 L1292.0 830.0 L1295.0 810.0 L1296.4 800.0 L1296.4 800.0 L1299.0 796.0 L1302.0 793.6 L1306.0 791.6 L1310.0 794.0 L1313.0 799.0 L1314.0 806.0 L1318.0 816.0 L1321.0 819.0 L1325.0 816.0 L1327.6 808.0 L1328.8 800.0 L1328.8 800.0 L1330.0 776.0 L1331.6 740.0 L1333.2 710.0 L1334.8 680.0 L1336.4 650.0 L1338.2 620.0 L1340.0 590.0 L1342.0 560.0 L1344.0 530.0 L1346.0 500.0 L1348.0 472.0 L1349.0 460.0 L1349.8 452.0 L1351.2 438.0 L1352.8 425.0 L1354.5 418.5 L1356.0 416.8 L1357.5 423.0 L1358.8 438.0 L1359.6 456.0 L1360.0 475.0 L1359.8 500.0 L1360.1 520.0 L1360.6 540.0 L1361.5 560.0 L1362.7 580.0 L1363.7 590.0 L1363.7 590.0 L1364.5 620.0 L1365.8 645.0 L1367.5 660.0 L1370.0 666.0 L1372.5 660.0 L1374.0 650.0 L1375.0 630.0 L1377.0 605.0 L1379.0 592.0 L1382.0 587.0 L1384.5 582.0 L1386.5 573.0 L1387.8 562.0 L1388.2 559.0 L1389.2 552.0 L1391.5 553.0 L1393.0 558.0 L1394.5 565.0 L1396.0 572.0 L1397.5 578.0 L1399.0 584.0 L1400.5 590.0 L1402.0 600.0"/>
<path class="k" d="M1383.5 575.0 L1385.0 560.0 L1386.0 550.0 L1386.8 535.0 L1387.5 520.0 L1388.2 505.0 L1389.0 490.0 L1389.7 475.0 L1390.5 462.0 L1392.0 454.5 L1394.0 450.8 L1395.6 450.5"/>
<path class="k" d="M1492.0 396.4 L1493.6 385.4 L1495.3 379.3 L1498.0 377.4 L1500.6 379.8 L1502.1 386.5 L1503.6 397.5"/>
<path class="k" d="M1550.0 324.0 L1551.2 300.0 L1552.4 290.0 L1553.6 300.0 L1554.8 324.0"/>
<path class="k" d="M1584.4 824.0 L1586.0 840.0 L1587.6 856.0 L1590.0 864.4 L1593.0 860.0 L1595.0 850.0 L1597.0 836.0 L1599.0 820.0 L1601.0 806.0 L1602.0 800.0 L1600.4 800.0 L1602.0 780.0 L1604.0 756.0 L1606.0 732.0 L1608.0 714.0 L1610.0 700.0 L1612.0 686.0 L1614.0 674.0 L1616.0 665.0 L1619.0 659.0 L1622.0 657.6 L1625.0 662.0 L1627.6 672.0 L1630.0 690.0 L1632.0 710.0 L1634.0 734.0 L1636.0 760.0 L1638.0 780.0 L1640.0 800.0 L1641.0 800.0 L1644.4 824.0 L1647.0 844.0 L1650.0 864.0 L1653.0 878.0 L1657.0 885.0 L1662.0 886.4 L1667.0 884.0 L1670.0 876.0 L1674.0 856.0 L1678.0 832.0 L1682.0 810.0 L1683.6 800.0 L1683.6 800.0 L1685.4 784.0 L1688.0 764.0 L1691.0 748.0 L1694.0 736.0 L1697.0 729.0 L1700.0 726.4 L1703.0 729.0 L1705.0 736.0 L1707.0 748.0 L1709.0 764.0 L1711.6 784.0 L1713.6 800.0 L1713.6 800.0 L1717.0 830.0 L1720.0 866.0 L1723.0 896.0 L1726.0 920.0 L1729.0 940.0 L1732.0 956.0 L1735.0 970.0 L1739.0 980.0 L1744.0 987.0 L1750.0 991.0 L1755.0 993.0 L1762.0 995.0"/>
<path class="k" d="M478.0 300.0 L480.0 280.0 L482.0 264.0 L484.0 257.0 L486.0 253.6 L488.0 252.4 L490.0 255.0 L492.0 262.0 L493.6 276.0 L495.0 300.0"/>
<path class="c" stroke="#0000ff" d="M277.0 995.5 L384.0 995.5 L388.0 995.0 L394.0 994.0 L400.0 991.6 L406.0 986.4 L412.0 978.0 L417.0 967.6 L421.0 954.4 L425.0 938.4 L428.0 922.4 L431.0 904.4 L434.0 884.4 L437.0 862.4 L440.0 840.4 L443.0 820.4 L446.0 800.0 L446.0 800.0 L449.0 770.0 L452.0 740.0 L455.0 710.0 L458.0 680.0 L460.6 650.0 L463.0 620.0 L465.0 590.0 L467.0 560.0 L469.0 530.0 L470.6 500.0 L472.4 470.0 L474.0 444.0 L475.6 420.0 L475.6 420.0 L478.0 390.0 L480.0 360.0 L482.0 330.0 L484.0 306.0 L486.0 288.0 L488.0 276.0 L490.0 270.4 L492.0 276.0 L494.0 292.0 L496.0 316.0 L498.0 340.0 L500.0 368.0 L502.0 396.0 L503.6 420.0 L503.6 420.0 L505.6 444.0 L507.6 466.0 L509.6 481.0 L511.6 487.0 L513.6 482.0 L515.6 468.0 L517.6 446.0 L519.6 420.0 L519.6 420.0 L521.6 396.0 L523.6 372.0 L525.6 352.0 L527.6 338.0 L529.6 332.4 L531.6 331.4 L534.0 336.0 L536.0 350.0 L538.0 368.0 L540.0 392.0 L541.4 416.0 L541.6 420.0 L541.6 420.0 L543.6 446.0 L545.6 476.0 L547.6 504.0 L549.6 528.0 L551.6 540.0 L553.2 542.0 L555.0 538.0 L557.0 520.0 L559.0 496.0 L561.0 470.0 L563.0 442.0 L564.4 420.0 L564.4 420.0 L566.0 400.0 L567.6 380.0 L569.0 360.0 L570.6 344.0 L572.4 335.0 L574.0 332.8 L576.0 336.4 L578.0 348.0 L580.0 368.0 L581.6 392.0 L583.2 420.0 L583.2 420.0 L585.0 460.0 L586.6 500.0 L588.2 540.0 L589.6 580.0 L591.2 620.0 L592.6 660.0 L594.0 700.0 L595.6 740.0 L597.0 780.0 L597.8 800.0 L597.8 800.0 L599.0 820.0 L600.6 844.0 L602.6 870.0 L605.0 890.0 L607.6 903.0 L609.6 906.6 L612.0 902.0 L614.4 886.0 L617.0 866.0 L620.0 844.0 L623.0 822.0 L626.0 804.0 L629.0 788.0 L632.0 782.4 L635.0 781.0 L638.0 784.0 L641.0 794.0 L643.0 806.0 L643.7 818.9 L646.8 842.6 L652.1 882.1 L657.4 921.6 L661.3 947.9 L662.0 954.0 L665.0 964.4 L668.0 969.6 L672.0 972.4 L676.0 972.8 L680.0 972.0 L684.0 970.8 L688.0 971.6 L692.0 974.0 L696.0 977.4 L700.0 981.4 L704.0 985.4 L708.0 988.8 L712.0 991.4 L718.0 993.4 L726.0 995.0 L734.0 995.5 L1080.0 995.5 L1088.0 994.0 L1098.0 991.0 L1108.0 987.0 L1116.0 985.0 L1124.0 985.0 L1132.0 987.6 L1142.0 991.6 L1152.0 994.2 L1162.0 995.5 L1250.0 995.5 L1260.0 995.0 L1280.0 992.0 L1300.0 990.0 L1318.0 989.0 L1330.0 990.4 L1342.0 992.8 L1358.0 995.5 L1930.0 995.5"/>
<path class="c" stroke="#808080" d="M277.0 995.5 L630.0 995.5 L630.0 995.5 L640.0 993.6 L650.0 991.6 L660.0 990.0 L670.0 989.2 L680.0 989.6 L690.0 991.6 L700.0 993.8 L710.0 995.5 L734.0 995.5 L738.0 995.0 L744.0 992.6 L750.0 988.6 L756.0 983.6 L762.0 978.6 L768.0 974.6 L772.0 973.4 L776.0 974.4 L782.0 978.4 L788.0 984.4 L794.0 989.4 L800.0 992.4 L806.0 994.4 L812.0 995.5 L966.0 995.5 L970.0 995.0 L978.0 993.4 L984.0 988.4 L988.0 980.4 L991.0 970.4 L994.0 956.4 L997.0 936.4 L999.0 916.4 L1001.0 890.4 L1003.0 860.4 L1005.0 830.4 L1007.0 800.0 L1007.6 800.0 L1009.6 770.0 L1011.6 740.0 L1013.8 700.0 L1015.8 660.0 L1017.8 620.0 L1019.8 580.0 L1021.8 550.0 L1023.8 531.0 L1026.0 521.0 L1028.0 517.6 L1030.0 516.4 L1030.0 516.4 L1031.6 522.0 L1033.0 540.0 L1034.4 564.0 L1036.0 596.0 L1038.0 630.0 L1040.0 660.0 L1042.0 690.0 L1044.0 720.0 L1046.0 750.0 L1048.0 776.0 L1049.6 800.0 L1049.6 800.0 L1051.0 830.0 L1053.0 860.0 L1056.0 890.0 L1059.0 920.0 L1062.0 944.0 L1066.0 966.0 L1070.0 980.0 L1074.0 989.0 L1079.0 993.6 L1084.0 995.5 L1096.0 995.5 L1100.0 995.0 L1106.0 993.0 L1110.0 985.0 L1114.0 971.0 L1118.0 949.0 L1121.0 925.0 L1123.6 897.0 L1126.0 865.0 L1128.0 833.0 L1129.6 800.0 L1129.4 800.0 L1131.0 770.0 L1132.8 730.0 L1134.6 690.0 L1136.4 650.0 L1138.0 610.0 L1140.0 560.0 L1142.0 510.0 L1144.0 460.0 L1145.6 420.0 L1145.6 420.0 L1147.0 390.0 L1148.4 360.0 L1150.0 340.0 L1151.6 328.0 L1153.4 323.0 L1155.4 322.2 L1157.6 324.0 L1159.6 334.0 L1161.2 352.0 L1162.6 376.0 L1163.6 400.0 L1164.4 420.0 L1164.4 420.0 L1166.0 460.0 L1167.6 500.0 L1169.2 540.0 L1171.0 580.0 L1172.8 620.0 L1174.4 660.0 L1176.0 700.0 L1177.6 740.0 L1179.0 770.0 L1180.0 800.0 L1180.0 800.0 L1181.4 830.0 L1183.2 860.0 L1185.6 890.0 L1188.0 920.0 L1191.0 946.0 L1195.0 968.0 L1200.0 984.4 L1206.0 992.4 L1212.0 995.5 L1294.0 995.5 L1298.0 995.0 L1304.0 993.0 L1309.0 987.0 L1313.0 977.0 L1317.0 961.0 L1321.0 937.0 L1324.0 909.0 L1327.0 877.0 L1329.4 841.0 L1331.4 800.0 L1331.4 800.0 L1333.2 770.0 L1336.0 720.0 L1339.0 670.0 L1342.0 620.0 L1345.0 570.0 L1348.0 520.0 L1351.0 480.0 L1353.6 457.0 L1356.0 448.6 L1358.4 457.0 L1360.4 480.0 L1362.4 512.0 L1364.4 546.0 L1366.4 578.0 L1368.4 608.0 L1370.4 638.0 L1372.4 668.0 L1374.4 698.0 L1376.4 728.0 L1378.4 758.0 L1380.2 788.0 L1380.8 800.0 L1380.8 800.0 L1382.2 830.0 L1384.2 866.0 L1386.8 900.0 L1390.0 936.0 L1394.0 964.0 L1399.0 982.4 L1404.0 991.0 L1410.0 994.4 L1416.0 995.5 L1466.0 995.5 L1476.0 993.6 L1486.0 990.0 L1496.0 986.0 L1504.0 984.0 L1508.0 983.6 L1514.0 984.4 L1522.0 988.0 L1530.0 991.6 L1540.0 994.0 L1550.0 995.5 L1930.0 995.5"/>
<path class="c" stroke="#ff0000" d="M277.0 995.5 L1326.0 995.5 L1330.0 995.5 L1338.0 993.6 L1344.0 990.4 L1349.0 984.4 L1353.0 974.4 L1357.0 958.4 L1360.0 940.4 L1363.0 916.4 L1366.0 886.4 L1368.4 856.4 L1371.0 826.4 L1373.0 800.0 L1373.0 800.0 L1374.8 770.0 L1376.6 740.0 L1378.4 710.0 L1379.0 710.0 L1381.0 670.0 L1384.0 630.0 L1387.0 610.0 L1390.0 600.0 L1392.5 596.0 L1394.5 595.5 L1396.5 597.5 L1398.5 605.0 L1400.5 620.0 L1403.0 640.0 L1405.5 660.0 L1408.0 680.0 L1410.5 700.0 L1413.0 718.0 L1415.0 728.0 L1417.0 733.5 L1419.0 730.0 L1421.0 720.0 L1423.0 705.0 L1425.0 685.0 L1427.0 665.0 L1429.0 645.0 L1431.0 625.0 L1433.0 605.0 L1435.0 587.0 L1437.5 570.0 L1439.5 560.0 L1440.4 553.6 L1442.0 551.2 L1443.6 550.4 L1446.0 554.0 L1448.4 566.0 L1450.4 584.0 L1452.4 608.0 L1454.4 632.0 L1456.4 656.0 L1458.4 678.0 L1460.4 696.0 L1462.4 710.0 L1465.0 720.0 L1467.6 722.4 L1470.0 718.0 L1472.4 704.0 L1474.4 684.0 L1476.4 656.0 L1478.4 624.0 L1480.4 590.0 L1482.4 556.0 L1484.4 522.0 L1486.4 490.0 L1488.4 460.0 L1490.4 432.0 L1491.2 420.0 L1491.2 420.0 L1493.0 398.4 L1495.0 390.6 L1497.4 388.2 L1500.0 392.0 L1502.0 402.0 L1503.4 416.0 L1503.8 420.0 L1503.8 420.0 L1505.4 444.0 L1507.2 474.0 L1509.2 506.0 L1511.2 540.0 L1513.2 574.0 L1515.2 606.0 L1517.2 634.0 L1519.2 654.0 L1521.6 670.0 L1524.4 675.4 L1527.0 670.0 L1529.0 654.0 L1531.0 630.0 L1533.0 600.0 L1534.4 570.0 L1536.0 540.0 L1537.6 510.0 L1539.2 480.0 L1540.8 450.0 L1542.4 420.0 L1542.4 420.0 L1543.6 390.0 L1545.2 364.0 L1547.0 344.0 L1549.0 330.0 L1551.0 324.0 L1552.6 323.0 L1554.6 326.0 L1556.6 336.0 L1558.6 352.0 L1560.6 376.0 L1562.4 400.0 L1563.6 420.0 L1563.6 420.0 L1564.8 450.0 L1566.0 484.0 L1567.4 520.0 L1568.8 556.0 L1570.2 592.0 L1571.6 628.0 L1573.0 660.0 L1574.4 690.0 L1576.0 720.0 L1577.6 750.0 L1579.0 776.0 L1580.4 800.0 L1580.4 800.0 L1581.4 820.0 L1582.6 846.0 L1584.2 870.0 L1586.2 890.0 L1589.0 906.0 L1593.0 916.0 L1597.0 918.4 L1601.0 916.4 L1605.0 911.4 L1609.0 907.6 L1613.0 906.2 L1617.0 908.4 L1621.0 916.4 L1625.0 928.4 L1629.0 942.4 L1633.0 956.4 L1637.0 968.4 L1641.0 976.8 L1646.0 984.4 L1651.0 988.8 L1657.0 990.4 L1663.0 988.4 L1669.0 983.4 L1676.0 977.4 L1683.0 972.4 L1690.0 970.0 L1697.0 970.6 L1703.0 974.2 L1710.0 980.2 L1718.0 987.2 L1726.0 992.2 L1734.0 994.6 L1742.0 995.5 L1930.0 995.5"/>
</g>
<path class="dd" stroke-dashoffset="37.3" d="M277.0 995.5 H1930.2"/>
<path class="dd" style="stroke-width:4.2" d="M711.0 41.0 V1020.6"/>
<path class="dd" style="stroke-width:4.2" d="M946.0 41.0 V1020.6"/>
<g clip-path="url(#cl)">
<path class="k" d="M277.0 1308.0 L279.2 1304.0 L281.0 1298.0 L283.0 1292.0 L285.0 1284.0 L286.4 1274.0 L288.0 1264.0 L290.0 1258.0 L293.0 1254.0 L297.0 1249.0 L302.0 1244.0 L303.0 1230.0 L304.0 1210.0 L305.6 1190.0 L306.4 1180.0 L306.4 1180.0 L307.2 1140.0 L308.2 1100.0 L309.6 1074.0 L311.4 1061.0 L313.0 1070.0 L314.4 1090.0 L316.0 1112.0 L318.0 1128.0 L320.0 1140.0 L321.6 1152.0 L322.8 1166.0 L323.6 1180.0 L323.6 1180.0 L324.6 1196.0 L326.0 1212.0 L328.0 1232.0 L329.6 1256.0 L331.0 1280.0 L332.0 1310.0 L333.0 1340.0 L334.0 1370.0 L335.0 1390.0 L336.0 1410.0 L337.6 1430.0 L339.0 1446.0 L340.4 1460.0 L342.0 1474.0 L343.6 1486.0 L345.6 1490.0 L347.6 1488.0 L349.0 1476.0 L350.0 1460.0 L351.0 1448.0 L352.0 1446.0 L353.0 1456.0 L354.0 1470.0 L355.0 1486.0 L355.6 1504.0 L356.4 1524.0 L357.2 1544.0 L358.0 1560.0 L358.0 1560.0 L358.6 1580.0 L359.2 1600.0 L359.8 1620.0 L360.4 1637.6 L361.2 1626.0 L362.0 1610.0 L363.2 1600.0 L364.4 1598.0 L365.6 1610.0 L366.4 1630.0 L367.4 1646.0 L368.4 1651.6 L370.0 1644.0 L371.6 1626.0 L373.0 1610.0 L374.4 1594.0 L375.6 1576.0 L376.6 1560.0 L376.6 1560.0 L378.0 1540.0 L379.6 1524.0 L381.6 1508.0 L383.6 1496.0 L386.0 1490.0 L388.0 1486.0 L389.0 1470.0 L390.0 1450.0 L391.0 1438.0 L392.0 1430.0 L394.0 1428.0 L396.0 1426.0 L397.6 1421.0 L399.6 1420.0 L401.0 1426.0 L402.0 1436.0 L403.6 1444.0 L405.0 1446.0 L407.0 1440.0 L409.0 1430.0 L410.4 1420.0 L411.6 1406.0 L412.4 1390.0 L413.2 1380.0 L414.4 1372.0 L417.0 1371.0 L418.4 1366.0 L419.6 1356.0 L421.0 1350.0 L422.4 1349.6 L425.0 1352.0 L427.0 1356.0 L428.4 1366.0 L429.6 1380.0 L431.0 1396.0 L432.4 1414.0 L434.0 1432.0 L435.6 1450.0 L437.0 1468.0 L438.4 1486.0 L439.6 1500.0 L441.0 1508.0 L443.0 1506.0 L444.4 1496.0 L445.6 1480.0 L446.8 1460.0 L448.0 1440.0 L449.0 1420.0 L450.0 1406.0 L451.2 1403.6 L453.0 1410.0 L454.4 1430.0 L455.6 1456.0 L456.6 1480.0 L457.6 1504.0 L458.6 1528.0 L459.6 1550.0 L460.2 1560.0 L460.2 1560.0 L460.8 1580.0 L461.4 1604.0 L462.2 1623.6 L463.6 1616.0 L465.0 1590.0 L466.4 1560.0 L466.4 1560.0 L468.4 1530.0 L470.4 1500.0 L472.4 1484.0 L475.0 1470.0 L478.0 1456.0 L481.0 1444.0 L483.6 1430.0 L485.6 1416.0 L487.6 1400.0 L489.4 1380.0 L491.0 1366.0 L492.4 1360.0 L494.0 1368.0 L495.2 1390.0 L496.2 1420.0 L497.2 1440.0 L498.2 1460.0 L499.6 1480.0 L501.2 1496.0 L503.0 1503.0 L505.6 1500.0 L507.6 1480.0 L509.0 1460.0 L510.0 1444.0 L511.6 1435.0 L514.0 1433.0 L517.0 1431.0 L520.0 1430.0 L522.4 1428.0 L524.0 1434.0 L525.6 1438.0 L527.0 1430.0 L528.0 1410.0 L529.0 1390.0 L530.0 1372.0 L531.2 1356.0 L532.6 1336.0 L534.0 1320.0 L536.0 1308.0 L539.0 1303.6 L541.0 1312.0 L543.0 1318.0 L545.0 1308.0 L547.0 1305.6 L550.0 1310.0 L552.0 1324.0 L554.0 1340.0 L556.0 1356.0 L558.0 1368.0 L560.0 1360.0 L561.6 1344.0 L562.8 1324.0 L564.0 1300.0 L566.0 1278.0 L569.0 1270.0 L571.0 1264.0 L573.0 1254.0 L574.4 1246.4 L575.6 1244.0 L577.0 1250.0 L578.4 1264.0 L580.0 1280.0 L582.0 1300.0 L584.0 1320.0 L585.6 1336.0 L587.0 1346.0 L589.0 1338.0 L591.0 1332.0 L594.0 1329.0 L596.4 1325.0 L599.0 1330.0 L601.0 1335.0 L603.0 1334.0 L606.0 1332.0 L608.0 1340.0 L609.0 1356.0 L610.0 1372.0 L611.0 1390.0 L612.0 1406.0 L613.6 1420.0 L615.0 1432.0 L616.4 1436.0 L618.4 1430.0 L620.0 1420.0 L621.6 1410.0 L623.6 1407.0 L625.6 1414.0 L627.0 1424.0 L629.0 1430.0 L631.0 1429.0 L632.4 1420.0 L633.6 1406.0 L635.0 1390.0 L636.4 1374.0 L638.0 1360.0 L639.6 1350.0 L641.2 1344.4 L643.0 1350.0 L644.4 1364.0 L646.0 1384.0 L647.6 1406.0 L649.0 1424.0 L650.0 1432.4 L651.6 1434.0 L653.0 1428.0 L654.4 1410.0 L656.0 1390.0 L657.6 1370.0 L659.0 1350.0 L661.0 1334.0 L663.0 1320.0 L665.0 1308.0 L667.0 1294.0 L669.0 1282.0 L670.6 1278.4 L672.0 1279.0 L673.6 1288.0 L675.0 1300.0 L676.4 1308.0 L678.0 1312.0 L680.0 1313.0 L681.6 1310.0 L683.0 1316.0 L684.4 1328.0 L686.0 1333.0 L688.4 1334.0 L690.0 1340.0 L691.4 1356.0 L692.6 1372.0 L694.0 1388.0 L695.6 1400.0 L697.6 1410.0 L699.6 1417.0 L702.0 1419.0 L704.0 1415.0 L706.4 1412.0 L709.0 1411.0 L711.0 1400.0 L712.4 1384.0 L714.0 1380.0 L715.6 1378.0 L717.0 1382.0 L719.0 1384.0 L720.4 1372.0 L722.0 1354.0 L723.4 1342.0 L724.4 1340.0 L726.0 1346.0 L727.6 1354.0 L729.0 1355.0 L730.4 1346.0 L732.0 1340.0 L734.0 1339.0 L735.6 1343.0 L737.0 1346.0 L739.0 1343.0 L741.0 1340.0 L743.0 1338.0 L745.0 1334.0 L746.6 1332.0 L748.0 1335.0 L749.6 1342.0 L751.0 1350.0 L753.0 1356.0 L755.0 1358.0 L757.0 1360.0 L758.4 1366.0 L760.0 1373.0 L761.2 1372.0 L762.4 1356.0 L763.6 1330.0 L765.0 1300.0 L766.6 1270.0 L768.0 1244.0 L769.6 1224.0 L771.0 1214.0 L772.4 1211.4 L773.6 1220.0 L774.8 1244.0 L776.0 1274.0 L777.2 1304.0 L778.4 1334.0 L779.6 1360.0 L781.0 1386.0 L782.4 1410.0 L784.0 1432.0 L785.6 1450.0 L787.0 1464.0 L789.0 1468.0 L791.0 1469.0 L793.0 1464.0 L795.0 1454.0 L797.0 1444.0 L799.0 1438.0 L801.0 1428.0 L803.0 1416.0 L805.0 1404.0 L807.0 1390.0 L809.0 1378.0 L810.6 1372.0 L812.0 1356.0 L813.2 1336.0 L814.4 1324.0 L815.6 1318.4 L817.0 1322.0 L818.4 1330.0 L820.0 1340.0 L821.6 1348.0 L823.2 1352.0 L824.4 1344.0 L825.6 1334.0 L827.0 1329.0 L828.4 1330.0 L830.0 1336.0 L832.0 1334.0 L833.6 1328.0 L835.0 1323.0 L837.0 1322.0 L839.0 1323.0 L841.0 1328.0 L843.0 1334.0 L845.0 1340.0 L848.0 1343.0 L850.0 1345.0 L852.0 1352.0 L854.0 1358.0 L856.0 1362.0 L858.0 1358.0 L860.0 1354.0 L863.0 1352.0 L867.0 1351.6 L871.0 1353.0 L874.4 1353.0 L877.0 1349.0 L880.0 1344.0 L883.0 1336.0 L886.0 1328.0 L889.0 1318.0 L891.0 1308.0 L893.0 1298.0 L895.0 1286.0 L897.0 1276.0 L899.0 1268.0 L901.6 1261.0 L904.0 1257.0 L907.0 1254.4 L910.0 1254.4 L913.0 1256.0 L916.0 1259.0 L919.0 1261.0 L922.0 1261.6 L925.0 1261.0 L928.0 1258.0 L931.0 1253.0 L934.0 1249.0 L937.0 1246.0 L940.0 1244.0 L943.0 1241.0 L946.0 1237.0 L948.0 1232.0 L950.0 1225.0 L952.0 1218.0 L954.0 1213.0 L957.0 1212.0 L959.6 1214.0 L961.6 1221.0 L963.6 1232.0 L965.6 1244.0 L967.6 1255.0 L969.6 1264.0 L972.0 1269.0 L974.4 1270.0 L977.0 1266.0 L979.0 1260.0 L981.0 1253.0 L982.4 1248.0 L984.0 1246.0 L985.4 1254.0 L987.0 1259.0 L989.0 1260.0 L992.0 1261.0 L994.0 1264.0 L996.0 1262.0 L998.0 1266.0 L1000.0 1270.0 L1002.0 1274.0 L1004.0 1272.0 L1005.6 1269.0 L1007.0 1274.0 L1008.0 1284.0 L1009.0 1296.0 L1010.0 1310.0 L1011.0 1324.0 L1012.0 1338.0 L1013.2 1352.0 L1014.4 1364.0 L1015.6 1370.0 L1017.2 1360.0 L1018.8 1336.0 L1020.2 1308.0 L1021.4 1276.0 L1022.6 1244.0 L1024.0 1212.0 L1025.6 1184.0 L1025.5 1164.5 L1027.5 1161.0 L1030.0 1162.0 L1032.0 1168.0 L1033.0 1180.0 L1034.0 1200.0 L1035.0 1230.0 L1036.5 1260.0 L1038.0 1290.0 L1040.0 1340.0 L1042.0 1376.0 L1044.0 1396.0 L1047.0 1406.4 L1049.0 1404.0 L1051.0 1396.0 L1053.0 1380.0 L1055.0 1364.0 L1057.0 1348.0 L1059.0 1336.0 L1061.0 1330.0 L1063.0 1327.0 L1065.0 1324.0 L1068.0 1322.0 L1071.0 1321.0 L1075.0 1321.6 L1079.0 1322.0 L1083.0 1320.0 L1086.0 1317.0 L1089.0 1312.0 L1092.0 1306.0 L1095.0 1298.0 L1097.6 1288.0 L1100.0 1274.0 L1101.6 1260.0 L1103.0 1240.0 L1103.6 1220.0 L1104.0 1200.0 L1104.4 1180.0 L1104.2 1180.0 L1104.5 1160.0 L1105.0 1150.0 L1106.5 1142.0 L1108.5 1135.0 L1110.0 1131.2 L1111.5 1129.8 L1113.5 1132.2 L1115.5 1137.0 L1117.5 1140.0 L1120.0 1140.6 L1122.0 1139.5 L1122.8 1130.0 L1123.5 1118.0 L1124.2 1108.0 L1125.5 1103.0 L1127.0 1106.2 L1128.2 1115.0 L1129.2 1130.0 L1130.2 1150.0 L1131.2 1165.0 L1132.1 1180.0 L1133.0 1180.0 L1134.0 1196.0 L1135.0 1216.0 L1136.0 1236.0 L1137.0 1260.0 L1138.0 1280.0 L1139.0 1300.0 L1140.0 1320.0 L1141.0 1340.0 L1142.0 1360.0 L1143.0 1380.0 L1144.0 1396.0 L1145.6 1410.0 L1146.6 1418.0 L1148.0 1412.0 L1150.0 1402.0 L1152.0 1394.0 L1154.0 1389.0 L1155.4 1388.0 L1156.6 1394.0 L1158.0 1404.0 L1159.2 1440.0 L1160.4 1470.0 L1162.0 1500.0 L1163.6 1524.0 L1165.0 1534.0 L1166.6 1528.0 L1168.4 1508.0 L1170.0 1480.0 L1171.6 1450.0 L1173.2 1420.0 L1174.8 1390.0 L1176.4 1360.0 L1178.4 1328.0 L1180.4 1302.0 L1182.4 1280.0 L1184.0 1264.0 L1185.0 1248.0 L1186.4 1238.0 L1188.0 1237.0 L1189.4 1242.0 L1191.0 1249.0 L1193.0 1251.0 L1194.0 1240.0 L1195.2 1228.0 L1196.4 1220.0 L1198.0 1218.4 L1200.0 1222.0 L1202.0 1230.0 L1203.6 1240.0 L1205.2 1250.0 L1206.8 1260.0 L1208.4 1266.0 L1211.0 1269.0 L1214.0 1271.0 L1217.0 1274.0 L1220.0 1276.0 L1223.0 1274.0 L1226.0 1270.0 L1229.0 1268.0 L1230.6 1269.0 L1231.6 1280.0 L1233.0 1292.0 L1234.4 1299.0 L1236.4 1300.0 L1238.4 1298.0 L1240.0 1302.0 L1241.6 1308.0 L1244.0 1312.0 L1246.4 1315.0 L1248.4 1317.0 L1250.4 1312.0 L1252.0 1304.0 L1253.6 1294.0 L1255.6 1284.0 L1257.6 1276.0 L1259.6 1270.0 L1261.6 1264.0 L1263.6 1260.0 L1266.0 1258.0 L1268.4 1258.4 L1270.6 1262.0 L1272.0 1274.0 L1273.0 1278.0 L1274.4 1270.0 L1276.0 1264.0 L1277.6 1263.0 L1279.0 1270.0 L1280.4 1284.0 L1282.0 1300.0 L1283.6 1314.0 L1285.6 1326.0 L1287.6 1332.0 L1289.4 1334.0 L1291.4 1329.0 L1293.6 1324.0 L1296.0 1323.0 L1299.0 1322.0 L1300.4 1312.0 L1301.6 1304.0 L1303.6 1301.6 L1305.6 1305.0 L1307.6 1304.0 L1309.6 1303.6 L1311.6 1308.0 L1313.0 1316.0 L1315.0 1313.0 L1317.0 1312.0 L1319.0 1318.0 L1321.0 1321.0 L1323.0 1319.0 L1324.4 1310.0 L1326.0 1296.0 L1327.6 1282.0 L1329.4 1274.0 L1331.6 1271.6 L1334.4 1271.0 L1337.0 1271.6 L1339.0 1274.0 L1340.4 1284.0 L1342.0 1294.0 L1344.0 1302.0 L1346.4 1307.0 L1349.0 1312.0 L1351.4 1318.0 L1353.6 1324.0 L1355.2 1332.0 L1356.4 1346.0 L1357.6 1366.0 L1358.6 1388.0 L1359.6 1410.0 L1360.6 1432.0 L1361.6 1456.0 L1362.8 1480.0 L1364.0 1504.0 L1365.2 1526.0 L1366.2 1544.0 L1367.2 1556.0 L1368.4 1557.6 L1369.6 1552.0 L1371.0 1536.0 L1372.4 1520.0 L1374.0 1500.0 L1375.6 1476.0 L1377.2 1456.0 L1379.0 1440.0 L1380.4 1432.0 L1382.4 1429.0 L1384.4 1424.0 L1386.0 1414.0 L1387.4 1396.0 L1388.6 1372.0 L1389.6 1348.0 L1390.6 1324.0 L1391.6 1304.0 L1393.0 1288.0 L1394.4 1278.0 L1395.6 1276.0 L1397.0 1284.0 L1398.4 1300.0 L1399.6 1320.0 L1400.8 1344.0 L1402.0 1370.0 L1403.2 1396.0 L1404.6 1424.0 L1406.0 1450.0 L1407.6 1470.0 L1409.2 1480.0 L1410.0 1480.0 L1411.6 1450.0 L1413.0 1430.0 L1415.0 1422.0 L1417.0 1414.0 L1420.0 1408.0 L1423.0 1404.0 L1426.0 1401.6 L1429.0 1402.4 L1431.6 1392.0 L1434.0 1370.0 L1437.0 1340.0 L1440.0 1300.0 L1442.0 1276.0 L1443.6 1270.4 L1445.6 1280.0 L1448.0 1310.0 L1451.0 1360.0 L1454.0 1410.0 L1455.6 1420.0 L1458.0 1404.0 L1462.0 1356.0 L1466.0 1300.0 L1470.0 1246.0 L1474.0 1200.0 L1477.0 1182.0 L1478.4 1180.0 L1480.4 1192.0 L1483.0 1230.0 L1486.0 1300.0 L1489.0 1380.0 L1491.0 1404.0 L1494.0 1416.0 L1497.0 1434.0 L1500.0 1450.0 L1503.0 1453.6 L1506.0 1436.0 L1509.0 1410.0 L1511.6 1398.0 L1514.0 1406.0 L1517.0 1420.0 L1520.0 1432.0 L1523.0 1435.0 L1527.0 1436.0 L1529.6 1446.0 L1532.0 1460.0 L1534.4 1468.0 L1537.0 1460.0 L1540.0 1446.0 L1542.0 1444.0 L1544.0 1420.0 L1547.0 1380.0 L1550.0 1340.0 L1552.0 1322.4 L1553.6 1318.0 L1555.6 1328.0 L1557.6 1360.0 L1559.6 1400.0 L1561.0 1430.0 L1562.4 1442.0 L1565.0 1440.0 L1568.0 1442.4 L1569.6 1420.0 L1571.0 1390.0 L1572.4 1360.0 L1574.0 1320.0 L1575.6 1280.0 L1577.0 1250.0 L1578.4 1226.0 L1580.0 1214.4 L1581.0 1212.4 L1582.4 1220.0 L1584.0 1236.0 L1585.6 1254.0 L1587.0 1270.0 L1588.4 1286.0 L1590.0 1294.0 L1592.4 1298.0 L1595.0 1304.0 L1596.4 1316.0 L1597.6 1330.0 L1599.0 1342.0 L1601.0 1346.0 L1604.0 1345.6 L1607.0 1344.0 L1608.6 1338.0 L1610.0 1326.0 L1611.6 1310.0 L1613.0 1296.0 L1614.4 1288.0 L1615.6 1287.4 L1616.8 1296.0 L1618.0 1320.0 L1619.0 1350.0 L1620.0 1380.0 L1621.0 1400.0 L1622.0 1420.0 L1623.6 1446.0 L1625.0 1464.0 L1626.4 1476.0 L1628.0 1482.0 L1629.6 1476.0 L1631.0 1460.0 L1632.4 1440.0 L1634.0 1416.0 L1635.6 1400.0 L1637.0 1394.0 L1638.4 1393.4 L1640.0 1398.0 L1641.6 1408.0 L1643.6 1420.0 L1645.6 1428.0 L1647.6 1429.0 L1649.6 1424.0 L1651.6 1412.0 L1653.6 1398.0 L1655.6 1384.0 L1657.6 1378.0 L1660.0 1375.0 L1663.0 1374.0 L1666.0 1373.0 L1668.0 1368.0 L1669.4 1356.0 L1671.0 1346.0 L1673.0 1342.0 L1676.0 1339.0 L1678.0 1332.0 L1679.6 1320.0 L1681.0 1310.0 L1682.4 1303.0 L1684.4 1301.4 L1686.4 1308.0 L1688.0 1320.0 L1689.4 1327.0 L1691.0 1328.0 L1693.0 1320.0 L1695.0 1308.0 L1697.0 1294.0 L1698.4 1286.0 L1700.0 1283.4 L1701.6 1292.0 L1703.0 1306.0 L1704.4 1316.0 L1707.0 1319.0 L1709.0 1326.0 L1710.6 1340.0 L1712.0 1354.0 L1713.6 1368.0 L1715.2 1380.0 L1717.0 1388.0 L1719.0 1384.0 L1720.4 1376.0 L1722.0 1368.0 L1724.4 1364.0 L1727.0 1360.0 L1729.4 1354.0 L1732.0 1348.0 L1734.0 1340.0 L1736.4 1335.0 L1739.0 1336.0 L1742.0 1338.0 L1744.4 1342.0 L1746.4 1344.0 L1748.0 1338.0 L1749.4 1326.0 L1751.0 1320.0 L1754.0 1318.0 L1757.0 1315.0 L1759.0 1308.0 L1761.0 1298.0 L1763.0 1289.0 L1765.0 1282.0 L1767.0 1276.0 L1769.0 1273.0 L1771.0 1272.4 L1773.0 1276.0 L1775.0 1281.0 L1777.0 1284.0 L1780.0 1284.4 L1783.0 1283.0 L1785.0 1276.0 L1787.0 1264.0 L1788.4 1252.0 L1790.0 1242.0 L1792.0 1232.0 L1793.6 1220.0 L1795.0 1208.0 L1796.4 1200.0 L1798.0 1196.4 L1800.0 1196.0 L1802.0 1200.0 L1803.6 1208.0 L1805.0 1215.0 L1806.6 1213.0 L1808.0 1207.0 L1809.6 1206.4 L1811.6 1212.0 L1813.0 1224.0 L1814.4 1236.0 L1816.4 1241.0 L1819.0 1242.0 L1821.6 1239.0 L1823.6 1230.0 L1825.6 1220.0 L1827.0 1204.0 L1828.0 1190.0 L1828.6 1180.0 L1829.2 1145.0 L1830.5 1113.7 L1832.1 1082.0 L1834.0 1052.0 L1836.0 1020.0 L1841.0 960.0 L1846.0 1020.0 L1848.1 1052.0 L1849.5 1082.0 L1850.8 1113.7 L1852.1 1145.0 L1852.0 1180.0 L1854.0 1200.0 L1856.0 1224.0 L1858.0 1244.0 L1860.0 1264.0 L1861.6 1288.0 L1863.0 1312.0 L1864.4 1336.0 L1866.0 1352.0 L1868.4 1351.0 L1871.0 1350.0 L1872.4 1360.0 L1874.0 1367.0 L1876.4 1365.0 L1878.0 1350.0 L1880.0 1330.0 L1882.0 1316.0 L1884.0 1300.0 L1885.4 1292.4 L1888.0 1291.0 L1890.4 1293.0 L1893.0 1296.0 L1896.0 1298.0 L1899.0 1303.0 L1902.0 1305.0 L1905.0 1302.0 L1907.6 1303.0 L1909.0 1310.0 L1910.4 1314.0 L1912.0 1308.0 L1913.6 1302.0 L1915.0 1301.4 L1916.4 1308.0 L1918.0 1316.0 L1920.0 1324.0 L1922.0 1332.0 L1924.0 1342.0 L1926.0 1352.0 L1928.0 1360.0 L1930.0 1368.0"/>
<path class="c" stroke="#0000ff" d="M465.6 1622.0 L468.0 1600.0 L470.0 1578.0 L471.6 1560.0 L471.6 1560.0 L472.4 1530.0 L473.2 1500.0 L474.4 1484.0 L476.4 1470.0 L479.0 1456.0 L482.0 1444.0 L484.4 1430.0 L486.4 1416.0 L488.0 1400.0 L490.0 1386.0 L492.4 1376.4 L494.0 1384.0 L495.0 1400.0 L496.0 1420.0 L497.0 1440.0 L498.0 1460.0 L499.4 1480.0 L501.0 1496.0 L503.0 1503.0 L505.6 1500.0 L507.6 1480.0 L509.0 1460.0 L510.0 1444.0 L511.6 1435.0 L514.0 1433.0 L517.0 1431.0 L520.0 1430.0 L522.4 1428.0 L524.0 1434.0 L525.6 1438.0 L527.0 1430.0 L528.0 1410.0 L529.0 1390.0 L530.0 1372.0 L531.6 1360.0 L533.6 1344.0 L535.6 1334.0 L538.0 1328.4 L540.0 1327.4 L542.0 1334.0 L544.4 1338.0 L547.0 1332.0 L549.0 1329.4 L551.0 1336.0 L552.4 1350.0 L554.0 1360.0 L556.0 1368.0 L558.0 1372.0 L560.0 1364.0 L561.6 1350.0 L563.0 1332.0 L564.4 1316.0 L566.0 1302.0 L568.0 1294.0 L570.0 1290.0 L572.0 1280.0 L574.0 1270.0 L576.0 1264.4 L578.0 1274.0 L580.0 1288.0 L582.0 1302.0 L584.0 1314.0"/>
<path class="c" stroke="#808080" d="M999.0 1287.0 L1002.0 1292.0 L1005.0 1296.0 L1007.0 1304.0 L1009.0 1320.0 L1011.0 1338.0 L1013.0 1356.0 L1014.4 1368.0 L1016.0 1373.0 L1018.0 1368.0 L1019.6 1352.0 L1021.0 1330.0 L1022.0 1304.0 L1023.0 1276.0 L1024.0 1248.0 L1025.6 1220.0 L1027.0 1200.0 L1028.6 1188.0 L1027.8 1190.0 L1029.0 1188.5 L1030.3 1189.5 L1031.5 1194.0 L1032.5 1200.0 L1034.0 1220.0 L1035.5 1250.0 L1037.5 1280.0 L1038.0 1290.0 L1038.4 1292.0 L1040.0 1320.0 L1041.6 1350.0 L1043.0 1376.0 L1044.4 1398.0 L1046.0 1412.0 L1047.6 1419.0 L1049.6 1421.0"/>
<path class="c" stroke="#808080" d="M1148.0 1420.0 L1150.0 1418.0 L1152.0 1408.0 L1154.0 1402.0 L1155.6 1401.0 L1157.0 1408.0 L1158.0 1420.0 L1159.0 1440.0 L1160.0 1460.0 L1161.0 1480.0 L1162.0 1500.0 L1163.0 1520.0 L1164.0 1536.0 L1165.0 1541.6 L1166.4 1536.0 L1168.0 1520.0 L1169.6 1496.0 L1171.0 1470.0 L1172.4 1440.0 L1174.0 1410.0 L1175.6 1380.0 L1177.2 1350.0 L1179.0 1320.0 L1181.0 1296.0 L1183.0 1276.0 L1185.0 1264.0 L1187.0 1258.0 L1189.0 1257.0 L1191.0 1264.0 L1193.0 1272.0 L1194.4 1274.0 L1196.0 1264.0 L1197.0 1256.0"/>
<path class="c" stroke="#ff0000" d="M1396.0 1326.0 L1397.6 1350.0 L1399.0 1374.0 L1400.4 1398.0 L1401.6 1420.0 L1403.0 1444.0 L1404.6 1468.0 L1406.4 1488.0 L1408.4 1500.0 L1409.4 1502.4 L1410.6 1492.0 L1411.6 1476.0 L1413.0 1450.0 L1414.4 1436.0 L1417.0 1428.0 L1421.0 1423.0 L1425.0 1420.0 L1429.0 1419.0 L1431.6 1414.0 L1433.6 1400.0 L1435.6 1380.0 L1437.0 1360.0 L1438.4 1336.0 L1440.0 1310.0 L1441.6 1294.0 L1443.6 1289.4 L1445.6 1296.0 L1447.2 1316.0 L1448.8 1340.0 L1450.4 1364.0 L1452.0 1390.0 L1453.6 1410.0 L1455.6 1420.0 L1457.6 1410.0 L1459.2 1390.0 L1461.0 1366.0 L1462.6 1344.0 L1464.4 1320.0 L1466.0 1300.0 L1468.0 1276.0 L1470.0 1252.0 L1472.4 1228.0 L1475.0 1208.0 L1478.0 1198.4 L1480.4 1206.0 L1482.0 1226.0 L1483.6 1250.0 L1485.0 1276.0 L1486.0 1304.0 L1487.0 1332.0 L1488.0 1360.0 L1489.0 1384.0 L1490.0 1404.0 L1491.6 1420.0 L1493.6 1432.0 L1495.6 1446.0 L1497.6 1466.0 L1499.2 1484.0 L1501.0 1500.0 L1502.4 1512.0 L1504.0 1516.0 L1505.6 1508.0 L1507.0 1490.0 L1508.4 1466.0 L1510.0 1440.0 L1511.6 1422.0 L1513.6 1416.4 L1515.6 1424.0 L1517.6 1438.0 L1519.6 1448.0 L1522.0 1452.0 L1525.0 1454.0 L1528.0 1456.0 L1530.0 1468.0 L1531.6 1484.0 L1533.0 1500.0 L1534.4 1508.0 L1536.4 1510.0 L1539.0 1502.0 L1541.0 1488.0 L1543.0 1468.0 L1545.0 1444.0 L1546.4 1420.0 L1548.0 1390.0 L1549.6 1360.0 L1551.0 1342.0 L1553.0 1335.4 L1555.0 1340.0 L1556.4 1360.0 L1557.6 1390.0 L1559.0 1420.0 L1560.0 1450.0 L1561.0 1476.0 L1562.0 1492.0 L1564.0 1486.0 L1566.0 1472.0 L1568.0 1458.0 L1570.0 1446.0"/>
<path class="k" stroke-dasharray="22 14" d="M464.0 1498.0 L467.0 1484.0 L470.0 1472.0 L472.0 1450.0 L474.0 1434.0 L478.0 1426.0 L482.0 1416.0 L485.0 1406.0 L488.0 1398.0 L492.0 1395.0 L495.0 1402.0 L496.0 1424.0 L500.0 1440.0 L503.0 1448.0 L506.0 1440.0 L508.0 1432.0 L510.0 1420.0 L515.0 1416.0 L520.0 1413.0 L522.0 1418.0 L525.0 1412.0 L528.0 1402.0 L530.0 1390.0 L533.0 1384.0 L537.0 1378.0 L540.0 1375.0 L543.0 1372.0 L546.0 1363.0 L549.0 1361.0 L552.0 1368.0 L554.0 1374.0 L558.0 1388.0 L561.0 1386.0 L564.0 1372.0 L567.0 1361.0 L572.0 1356.0 L577.0 1357.0 L584.0 1364.0"/>
<path class="k" stroke-dasharray="22 14" d="M1396.0 1332.0 L1399.0 1356.0 L1402.0 1380.0 L1404.0 1426.0 L1406.0 1450.0 L1410.0 1474.0 L1412.0 1446.0 L1416.0 1426.0 L1422.0 1416.0 L1429.0 1412.0 L1433.0 1396.0 L1437.0 1370.0 L1440.0 1350.0 L1443.6 1338.0 L1447.0 1360.0 L1451.0 1398.0 L1455.0 1412.0 L1458.0 1390.0 L1462.0 1360.0 L1467.0 1328.0 L1471.0 1292.0 L1474.0 1264.0 L1477.0 1255.0 L1480.0 1274.0 L1483.0 1316.0 L1486.0 1360.0 L1489.0 1396.0 L1493.0 1410.0 L1498.0 1432.0 L1502.0 1448.0 L1505.0 1452.0 L1508.0 1420.0 L1511.0 1402.0 L1514.0 1398.0 L1518.0 1414.0 L1522.0 1434.0 L1527.0 1440.0 L1531.0 1456.0 L1535.0 1468.0 L1539.0 1450.0 L1543.0 1430.0 L1547.0 1410.0 L1551.0 1384.0 L1553.6 1378.0 L1556.0 1400.0 L1559.0 1426.0 L1562.0 1440.0 L1568.0 1442.0"/>
</g>
<path class="dd" stroke-dashoffset="37.3" d="M277.0 1388.1 H1930.2"/>
<path class="dd" style="stroke-width:4.2" stroke-dashoffset="10.9" d="M711.0 1081.4 V1621.0"/>
<path class="dd" style="stroke-width:4.2" d="M711.0 1211.3 V1725.0"/>
<path class="dd" style="stroke-width:4.2" stroke-dashoffset="10.9" d="M946.0 1081.4 V1621.0"/>
<path class="dd" style="stroke-width:4.2" d="M946.0 1211.3 V1725.0"/>
<path class="f" style="stroke-width:4.2;stroke-linejoin:miter;stroke-linecap:square" d="M474 1496.0 V1564.0 H575 V1496.0"/>
<path class="f" style="stroke-width:4.2;stroke-linejoin:miter;stroke-linecap:square" d="M493.0 1496.0 V1564.0"/>
<path class="f" style="stroke-width:4.2;stroke-linejoin:miter;stroke-linecap:square" d="M529.4 1496.0 V1564.0"/>
<path class="f" style="stroke-width:4.2;stroke-linejoin:miter;stroke-linecap:square" d="M451 1564.5 V1632.5 H635.6 V1564.5"/>
<path class="f" style="stroke-width:4.2;stroke-linejoin:miter;stroke-linecap:square" d="M483.0 1564.5 V1632.5"/>
<path class="f" style="stroke-width:4.2;stroke-linejoin:miter;stroke-linecap:square" d="M490.0 1564.5 V1632.5"/>
<path class="f" style="stroke-width:4.2;stroke-linejoin:miter;stroke-linecap:square" d="M538.0 1564.5 V1632.5"/>
<path class="f" style="stroke-width:4.2;stroke-linejoin:miter;stroke-linecap:square" d="M1027.5 1564.5 V1632.5 H1355.8 V1564.5"/>
<path class="f" style="stroke-width:4.2;stroke-linejoin:miter;stroke-linecap:square" d="M1154.4 1564.5 V1632.5"/>
<path class="f" style="stroke-width:4.2;stroke-linejoin:miter;stroke-linecap:square" d="M1393.5 1496.0 V1564.0 H1552.4 V1496.0"/>
<path class="f" style="stroke-width:4.2;stroke-linejoin:miter;stroke-linecap:square" d="M1443.0 1496.0 V1564.0"/>
<path class="f" style="stroke-width:4.2;stroke-linejoin:miter;stroke-linecap:square" d="M1497.5 1496.0 V1564.0"/>
<path class="f" style="stroke-width:4.2;stroke-linejoin:miter;stroke-linecap:square" d="M1483.6 1564.0 V1632.5 H1682.4 V1564.5"/>
<path class="f" style="stroke-width:4.2;stroke-linejoin:miter;stroke-linecap:square" d="M1552.4 1564.5 V1632.5"/>
<path class="f" style="stroke-width:4.2;stroke-linejoin:miter;stroke-linecap:square" d="M1613.4 1564.5 V1632.5"/>
</svg></body></html>
